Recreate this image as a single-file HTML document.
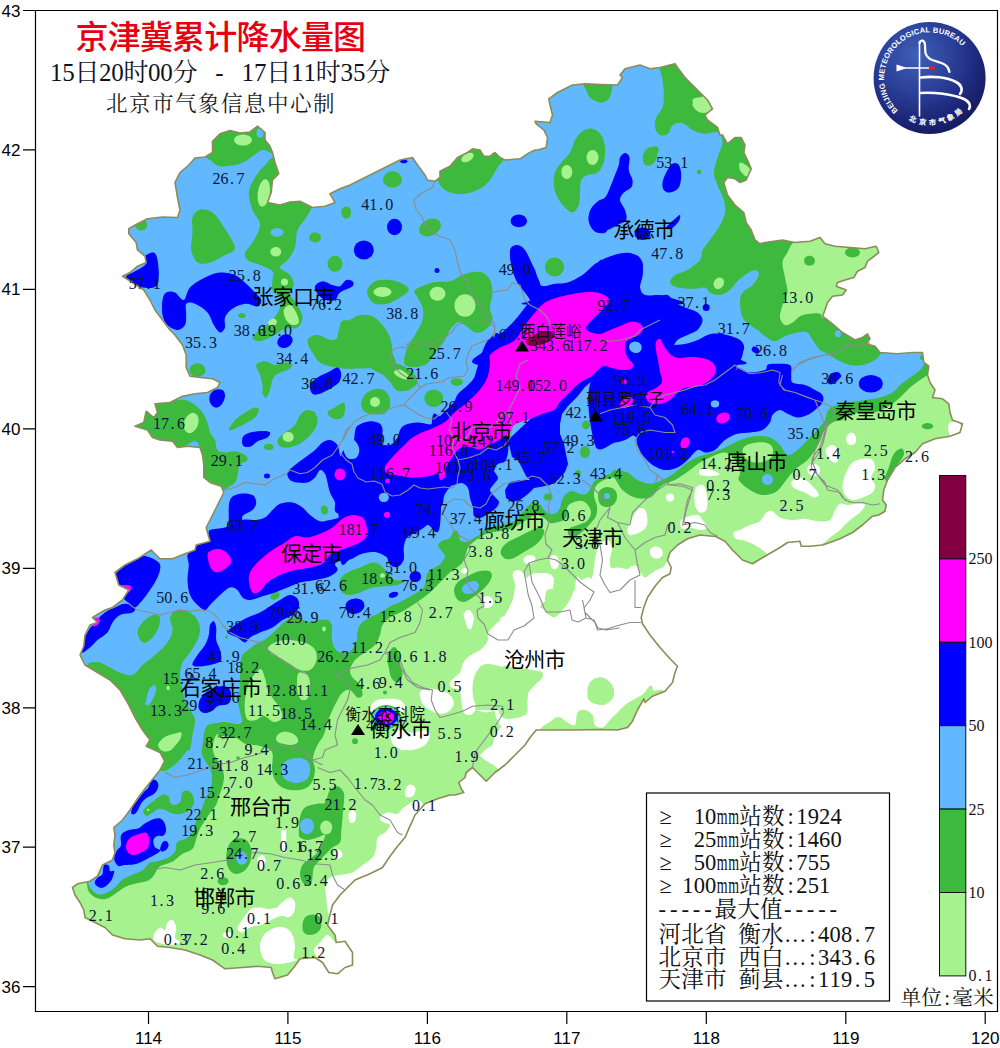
<!DOCTYPE html>
<html lang="zh"><head><meta charset="utf-8"><title>京津冀累计降水量图</title>
<style>html,body{margin:0;padding:0;background:#fff}body{width:1000px;height:1048px;overflow:hidden;font-family:"Liberation Sans",sans-serif}svg{display:block}text{font-family:"Liberation Sans",sans-serif}.s{font-family:"Liberation Serif",serif}.c{font-family:"Liberation Serif","Noto Serif CJK SC",serif}.g{font-family:"Liberation Sans","Noto Sans CJK SC",sans-serif}</style></head><body>
<svg width="1000" height="1048" viewBox="0 0 1000 1048">
<desc>京津冀累计降水量图 15日20时00分 - 17日11时35分 北京市气象信息中心制 单位:毫米</desc>
<rect width="1000" height="1048" fill="#fff"/>
<defs><clipPath id="pc"><path d="M122.5 276.2L130 272.5L137.5 266.2L146.2 262.5L145 256.2L137.5 250L136.2 242.5L128.8 233.8L128.8 228.8L137.5 223.8L147.5 218.8L162.5 217L177.5 217.5L180 210L177.5 197.5L175 182.5L180 172.5L188.8 165L195 158L205 157L212.5 152.5L212.5 141.2L220 133.8L230 130.5L240 133L250 132L257.5 126.2L265 132.5L265 140L270 146.2L272.5 152.5L275 162.5L278.8 173.8L272.5 180L271.2 192.5L267.5 202.5L280 205L290 202L300 201.2L312.5 207.5L325 206.2L335 202.5L330 193.8L340 188.8L350 185L365 177.5L380 170L392.5 163.8L400 160L412.5 157.5L417.5 165L425 175L427.5 180L435 181.2L440 177.5L440 171.2L450 166.2L457.5 157.5L467.5 152.5L472.5 148.8L480 150L483.8 156.2L490 156.2L495 152.5L500 157.5L505 160L520 158.8L527.5 153.8L535 150L537.5 150L546.2 147.5L547.5 137.5L543.8 130L536.2 123.8L535 121.2L550 122.5L552.5 115L550 105L548.8 98.8L557.5 92.5L572.5 85L585 83.8L600 84.5L617.5 85L622.5 77.5L620 75L625 68.8L640 65L650 68.8L660 67.5L675 63.8L677.5 67.5L685 77.5L697.5 90L707.5 100L712.5 108.8L705 115L707.5 120L717.5 127.5L720 135L722.5 135L727.5 143.8L735 137.5L741.2 137.5L745 145L743.8 152.5L747.5 160L751.2 168.8L746.2 180L740 182.5L735 178.8L727.5 177.5L723.8 182.5L727.5 195L735 205L743.8 212.5L746.2 222.5L751.2 230L755 240L760 243.8L765 242.5L782.5 240L795 242.5L810 241.2L820 237.5L825 243.8L835 246.2L850 247.5L865 248.8L876.2 246.2L878.8 252.5L872.5 257.5L867.5 261.2L865 267.5L857.5 271.2L853.8 277.5L845 280L837.5 282.5L836.2 286.2L846.2 290L842.5 295L832.5 296.2L827.5 302.5L825 310L822.5 316.2L832.5 323.8L842.5 332.5L855 340L862.5 337.5L867.5 333.8L870 338.8L866.2 343.8L875 346.2L880 352.5L897.5 353.8L912.5 352.5L922.5 352.5L923.8 362.5L928.8 366.2L927.5 375L930 382.5L935 390L932.5 397.5L942.5 398.8L948.8 403.8L950 412.5L952.5 420L962.5 423.8L960 432.5L950 436.2L950 436.2L935 438.8L922.5 443.8L915 452.5L905 458.8L895 467.5L887.5 480L883.8 490L882.5 500L886.2 505L885 511.2L878.8 515L872.5 516.2L862.5 525L852.5 532.5L840 538.8L830 542.5L822.5 545L810 546.2L801.2 546.2L800 541.2L787.5 542.5L780 547.5L765 556.2L752.5 563.8L742.5 560L732.5 550L725 541.2L715 536.2L712.5 536.2L700 535L687.5 538.8L677.5 545L670 552.5L667.5 560L671.2 567.5L670 573.8L662.5 577.5L655 586.2L647.5 597.5L643.8 607.5L641.2 617.5L642.5 623.8L650 635L660 647.5L670 658.8L677.5 666.2L675 672.5L672.5 682.5L665 691.2L652.5 696.2L645 702.5L643.8 698.8L637.5 710L632.5 721.2L627.5 727.5L617.5 730L600 729.5L575 730L550 730L536.2 730L530 737.5L525 745L515 755L505 765L495 772.5L486.2 781.2L480 775L472.5 767.5L466.2 772.5L465 777.5L458.8 782.5L461.2 788.8L463.8 792.5L455 795L450 795L437.5 798.8L425 803.8L415 815L410 826.2L405 837.5L397.5 846.2L390 856.2L382.5 867.5L370 873.8L355 880L347.5 887.5L340 895L332.5 905L330 915L327.5 925L335 935L336.2 942.5L345 941.2L352.5 952.5L352.5 965L345 967.5L337.5 973.8L328.8 972.5L322.5 962.5L315 957.5L300 958.8L293.8 967.5L287.5 975L275 978.8L272.5 972.5L271.2 967.5L257.5 966.2L242.5 967.5L225 968.8L212.5 960L200 955L185 950L170 947.5L157.5 946.2L150 938.8L140 940L125 938.8L112.5 935L105 927.5L95 922.5L85 917.5L83.8 910L80 902.5L75 895L72.5 887.5L77.5 883.8L90 881.2L97.5 876.2L102.5 865L112.5 860L115 852.5L113.8 845L115 835L113.8 827.5L122.5 820L130 810L140 795L150 782.5L160 770L165 760L165 762L160 752.5L146.2 746.2L150 740L142.5 730L135 717.5L127.5 702.5L120 690L110 680L97.5 672.5L85 665L80 655L83.8 646.2L85 635L90 625L97.5 622.5L92.5 617.5L105 610L112.5 607.5L122.5 600L128.8 590L118.8 585L115 572.5L125 565L137.5 558.8L151.2 550L160 558.8L172.5 558.8L185 553.8L195 550L196.2 545L210 541.2L207.5 532.5L206.2 527.5L210 520L215 510L220 500L223.8 492.5L221.2 486.2L210 482.5L203.8 477.5L203.8 465L202.5 455L200 447.5L187.5 446.2L177.5 447.5L172.5 441.2L160 440L152.5 437.5L147.5 430L135 426.2L143.8 422.5L146.2 411.2L153.8 417.5L157.5 412.5L155 403.8L170 402.5L182.5 396.2L195 393.8L207.5 392.5L217.5 387.5L220 382.5L212.5 378.8L200 377.5L190 376.2L186.2 367.5L186.2 355L182.5 345L175 335L170 330L162.5 320L155 310L150 300L143.8 290L132.5 282.5Z"/></clipPath><radialGradient id="lg" cx="0.38" cy="0.30" r="0.75"><stop offset="0" stop-color="#3f5fb8"/><stop offset="0.45" stop-color="#2a3f98"/><stop offset="0.8" stop-color="#1b2474"/><stop offset="1" stop-color="#141a5c"/></radialGradient><path id="arc1" d="M898 110.6A45.5 45.5 0 1 1 969.8 56.5"/></defs>
<g clip-path="url(#pc)">
<path d="M122.5 276.2L130 272.5L137.5 266.2L146.2 262.5L145 256.2L137.5 250L136.2 242.5L128.8 233.8L128.8 228.8L137.5 223.8L147.5 218.8L162.5 217L177.5 217.5L180 210L177.5 197.5L175 182.5L180 172.5L188.8 165L195 158L205 157L212.5 152.5L212.5 141.2L220 133.8L230 130.5L240 133L250 132L257.5 126.2L265 132.5L265 140L270 146.2L272.5 152.5L275 162.5L278.8 173.8L272.5 180L271.2 192.5L267.5 202.5L280 205L290 202L300 201.2L312.5 207.5L325 206.2L335 202.5L330 193.8L340 188.8L350 185L365 177.5L380 170L392.5 163.8L400 160L412.5 157.5L417.5 165L425 175L427.5 180L435 181.2L440 177.5L440 171.2L450 166.2L457.5 157.5L467.5 152.5L472.5 148.8L480 150L483.8 156.2L490 156.2L495 152.5L500 157.5L505 160L520 158.8L527.5 153.8L535 150L537.5 150L546.2 147.5L547.5 137.5L543.8 130L536.2 123.8L535 121.2L550 122.5L552.5 115L550 105L548.8 98.8L557.5 92.5L572.5 85L585 83.8L600 84.5L617.5 85L622.5 77.5L620 75L625 68.8L640 65L650 68.8L660 67.5L675 63.8L677.5 67.5L685 77.5L697.5 90L707.5 100L712.5 108.8L705 115L707.5 120L717.5 127.5L720 135L722.5 135L727.5 143.8L735 137.5L741.2 137.5L745 145L743.8 152.5L747.5 160L751.2 168.8L746.2 180L740 182.5L735 178.8L727.5 177.5L723.8 182.5L727.5 195L735 205L743.8 212.5L746.2 222.5L751.2 230L755 240L760 243.8L765 242.5L782.5 240L795 242.5L810 241.2L820 237.5L825 243.8L835 246.2L850 247.5L865 248.8L876.2 246.2L878.8 252.5L872.5 257.5L867.5 261.2L865 267.5L857.5 271.2L853.8 277.5L845 280L837.5 282.5L836.2 286.2L846.2 290L842.5 295L832.5 296.2L827.5 302.5L825 310L822.5 316.2L832.5 323.8L842.5 332.5L855 340L862.5 337.5L867.5 333.8L870 338.8L866.2 343.8L875 346.2L880 352.5L897.5 353.8L912.5 352.5L922.5 352.5L923.8 362.5L928.8 366.2L927.5 375L930 382.5L935 390L932.5 397.5L942.5 398.8L948.8 403.8L950 412.5L952.5 420L962.5 423.8L960 432.5L950 436.2L950 436.2L935 438.8L922.5 443.8L915 452.5L905 458.8L895 467.5L887.5 480L883.8 490L882.5 500L886.2 505L885 511.2L878.8 515L872.5 516.2L862.5 525L852.5 532.5L840 538.8L830 542.5L822.5 545L810 546.2L801.2 546.2L800 541.2L787.5 542.5L780 547.5L765 556.2L752.5 563.8L742.5 560L732.5 550L725 541.2L715 536.2L712.5 536.2L700 535L687.5 538.8L677.5 545L670 552.5L667.5 560L671.2 567.5L670 573.8L662.5 577.5L655 586.2L647.5 597.5L643.8 607.5L641.2 617.5L642.5 623.8L650 635L660 647.5L670 658.8L677.5 666.2L675 672.5L672.5 682.5L665 691.2L652.5 696.2L645 702.5L643.8 698.8L637.5 710L632.5 721.2L627.5 727.5L617.5 730L600 729.5L575 730L550 730L536.2 730L530 737.5L525 745L515 755L505 765L495 772.5L486.2 781.2L480 775L472.5 767.5L466.2 772.5L465 777.5L458.8 782.5L461.2 788.8L463.8 792.5L455 795L450 795L437.5 798.8L425 803.8L415 815L410 826.2L405 837.5L397.5 846.2L390 856.2L382.5 867.5L370 873.8L355 880L347.5 887.5L340 895L332.5 905L330 915L327.5 925L335 935L336.2 942.5L345 941.2L352.5 952.5L352.5 965L345 967.5L337.5 973.8L328.8 972.5L322.5 962.5L315 957.5L300 958.8L293.8 967.5L287.5 975L275 978.8L272.5 972.5L271.2 967.5L257.5 966.2L242.5 967.5L225 968.8L212.5 960L200 955L185 950L170 947.5L157.5 946.2L150 938.8L140 940L125 938.8L112.5 935L105 927.5L95 922.5L85 917.5L83.8 910L80 902.5L75 895L72.5 887.5L77.5 883.8L90 881.2L97.5 876.2L102.5 865L112.5 860L115 852.5L113.8 845L115 835L113.8 827.5L122.5 820L130 810L140 795L150 782.5L160 770L165 760L165 762L160 752.5L146.2 746.2L150 740L142.5 730L135 717.5L127.5 702.5L120 690L110 680L97.5 672.5L85 665L80 655L83.8 646.2L85 635L90 625L97.5 622.5L92.5 617.5L105 610L112.5 607.5L122.5 600L128.8 590L118.8 585L115 572.5L125 565L137.5 558.8L151.2 550L160 558.8L172.5 558.8L185 553.8L195 550L196.2 545L210 541.2L207.5 532.5L206.2 527.5L210 520L215 510L220 500L223.8 492.5L221.2 486.2L210 482.5L203.8 477.5L203.8 465L202.5 455L200 447.5L187.5 446.2L177.5 447.5L172.5 441.2L160 440L152.5 437.5L147.5 430L135 426.2L143.8 422.5L146.2 411.2L153.8 417.5L157.5 412.5L155 403.8L170 402.5L182.5 396.2L195 393.8L207.5 392.5L217.5 387.5L220 382.5L212.5 378.8L200 377.5L190 376.2L186.2 367.5L186.2 355L182.5 345L175 335L170 330L162.5 320L155 310L150 300L143.8 290L132.5 282.5Z" fill="#a6f28f"/>
<path d="M80.2 879.6C102.9 876.6 84.7 880.2 86.2 882.1C87.6 884.1 87.1 889 88.7 891.5C90.3 894 92.7 896.2 95.5 897.5C98.3 898.7 102.3 899.9 105.7 899.1C109.1 898.4 112.5 895.3 115.9 893.2C119.3 891.1 122.4 888.1 126.1 886.4C129.8 884.7 134.6 883.9 138 883C141.4 882.1 143.9 882.4 146.5 881.3C149.1 880.2 151.3 878.5 153.3 876.2C155.3 873.9 156.4 869.7 158.4 867.7C160.4 865.7 162.6 865.4 165.2 864.3C167.8 863.2 170.9 862.6 173.7 860.9C176.5 859.2 179.1 856.1 182.2 854.1C185.3 852.1 190.1 851.3 192.4 849C194.7 846.7 194.7 843.6 195.8 840.5C196.9 837.4 197.8 833.4 199.2 830.3C200.6 827.2 202.3 824.9 204.3 821.8C206.3 818.7 209.1 814.4 211.1 811.6C213.1 808.8 214.8 807.6 216.2 804.8C217.6 802 218.5 798 219.6 794.6C220.7 791.2 222.3 787.8 223 784.4C223.7 781 224.4 777.6 223.8 774.2C223.3 770.8 221.2 767.1 219.6 764C218 760.9 215.6 758.3 214.5 755.5C213.4 752.7 212.8 749.8 212.8 747C212.8 744.2 213.7 740.8 214.5 738.5C215.3 736.2 217.3 733.5 217.9 733.4C218.5 733.3 217 737.6 218 738C219 738.4 221 736 224 736C227 736 232.3 736.7 236 738C239.7 739.3 242 742.7 246 744C250 745.3 255.7 744.7 260 746C264.3 747.3 270 748.3 272 752C274 755.7 271.7 763.7 272 768C272.3 772.3 272.7 775 274 778C275.3 781 277.3 784 280 786C282.7 788 286 789.5 290 790C294 790.5 300.3 790.3 304 789C307.7 787.7 310.2 785.2 312 782C313.8 778.8 314.8 774 315 770C315.2 766 312.6 762.2 313 758C313.4 753.8 315.7 748.8 317.5 745C319.3 741.2 322.1 738.8 323.8 735C325.4 731.2 326 726.7 327.5 722.5C329 718.3 330.8 713.8 332.5 710C334.2 706.2 335.8 702.9 337.5 700C339.2 697.1 340.4 694.2 342.5 692.5C344.6 690.8 347.5 689.2 350 690C352.5 690.8 355.4 696.7 357.5 697.5C359.6 698.3 362.1 697.1 362.5 695C362.9 692.9 361.7 687.9 360 685C358.3 682.1 354.2 680 352.5 677.5C350.8 675 349.6 672.9 350 670C350.4 667.1 352.5 662.9 355 660C357.5 657.1 361.7 655 365 652.5C368.3 650 372.5 647.9 375 645C377.5 642.1 378.8 638.3 380 635C381.2 631.7 380.8 627.9 382.5 625C384.2 622.1 386.2 620 390 617.5C393.8 615 400 612.9 405 610C410 607.1 415.8 602.9 420 600C424.2 597.1 426.7 595.4 430 592.5C433.3 589.6 436.7 585.8 440 582.5C443.3 579.2 446.2 575.8 450 572.5C453.8 569.2 459.5 566.6 462.5 562.5C465.5 558.4 465.8 551.8 468 548C470.2 544.2 473 542.3 476 540C479 537.7 482 535.5 486 534C490 532.5 496 531.8 500 531C504 530.2 506.7 530.2 510 529C513.3 527.8 517 525.7 520 524C523 522.3 525.3 520.5 528 519C530.7 517.5 533.3 515.2 536 515C538.7 514.8 541.7 516.7 544 518C546.3 519.3 547.7 522.3 550 523C552.3 523.7 555.3 522.8 558 522C560.7 521.2 564.3 520.7 566 518C567.7 515.3 566 508.8 568 506C570 503.2 575 501.5 578 501C581 500.5 583.8 501.2 586 503C588.2 504.8 590.8 509 591 512C591.2 515 589.2 518.8 587 521C584.8 523.2 580.8 523.8 578 525C575.2 526.2 571.7 526.5 570 528C568.3 529.5 567.3 532.5 568 534C568.7 535.5 571.7 537.3 574 537C576.3 536.7 579.3 534.2 582 532C584.7 529.8 587.7 526.7 590 524C592.3 521.3 594.8 519 596 516C597.2 513 597.3 509.3 597 506C596.7 502.7 594.2 499.3 594 496C593.8 492.7 594.3 488.7 596 486C597.7 483.3 601.3 481.3 604 480C606.7 478.7 610.2 478.2 612 478C613.8 477.8 613.2 476.8 615 478.8C616.8 480.8 619.2 486.9 622.5 490C625.8 493.1 630.4 496.2 635 497.5C639.6 498.8 646.2 498.8 650 497.5C653.8 496.2 655.4 492.1 657.5 490C659.6 487.9 659.6 486.7 662.5 485C665.4 483.3 670.4 482.5 675 480C679.6 477.5 685.8 472.9 690 470C694.2 467.1 696.2 464.8 700 462.5C703.8 460.2 708.3 457.9 712.5 456.2C716.7 454.6 721.2 451.9 725 452.5C728.8 453.1 732.5 456.7 735 460C737.5 463.3 739.4 469.2 740 472.5C740.6 475.8 737.1 477.1 738.8 480C740.4 482.9 746 487.5 750 490C754 492.5 758.3 494.6 762.5 495C766.7 495.4 771.7 494.2 775 492.5C778.3 490.8 780 487.9 782.5 485C785 482.1 787.5 477.9 790 475C792.5 472.1 794.6 470 797.5 467.5C800.4 465 804.6 462.9 807.5 460C810.4 457.1 812.9 453.3 815 450C817.1 446.7 818.3 443.3 820 440C821.7 436.7 822.9 432.9 825 430C827.1 427.1 829.6 424.2 832.5 422.5C835.4 420.8 840.2 421.2 842.5 420C844.8 418.8 843.3 416.8 846.2 415.5C849.2 414.2 855.2 413 860 412.5C864.8 412 870 413.8 875 412.5C880 411.2 885.8 407.5 890 405C894.2 402.5 896.7 400.4 900 397.5C903.3 394.6 906.7 390.4 910 387.5C913.3 384.6 917.1 382.1 920 380C922.9 377.9 924.2 377.5 927.5 375C930.8 372.5 919.6 377.5 940 365C960.4 352.5 1031.7 369.2 1050 300C1068.3 230.8 1233.3 8.3 1050 -50C866.7 -108.3 133.3 -208.3 -50 -50C-233.3 108.3 -71.7 745.1 -50 900C-28.3 1054.9 57.5 882.6 80.2 879.6Z" fill="#3dba3d"/>
<ellipse cx="851.2" cy="438.8" rx="4.5" ry="6.2" fill="#ffffff"/>
<path d="M948.8 423.8C950 421.7 955.4 421.9 957.5 422.5C959.6 423.1 961.2 425.6 961.2 427.5C961.2 429.4 959.4 432.5 957.5 433.8C955.6 435 951.5 436.7 950 435C948.5 433.3 947.5 425.8 948.8 423.8Z" fill="#ffffff"/>
<ellipse cx="927.5" cy="426.2" rx="5.5" ry="3" fill="#3dba3d"/>
<path d="M897.5 450C899.2 448.8 901.5 447.9 902.5 448.8C903.5 449.6 904.6 452.3 903.8 455C902.9 457.7 899.6 461.7 897.5 465C895.4 468.3 892.9 472.1 891.2 475C889.6 477.9 888.5 482.1 887.5 482.5C886.5 482.9 884.8 480 885 477.5C885.2 475 887.5 471 888.8 467.5C890 464 891 459.2 892.5 456.2C894 453.3 895.8 451.2 897.5 450Z" fill="#3dba3d"/>
<path d="M846.2 437.5C846.7 435.8 848.5 434.2 850 433.8C851.5 433.3 854 433.8 855 435C856 436.2 856.7 439.6 856.2 441.2C855.8 442.9 854 444.6 852.5 445C851 445.4 848.5 445 847.5 443.8C846.5 442.5 845.8 439.2 846.2 437.5Z" fill="#ffffff"/>
<path d="M826.2 448.8C827.1 447.3 829.6 445.2 831.2 445C832.9 444.8 835 445.6 836.2 447.5C837.5 449.4 838.8 453.8 838.8 456.2C838.8 458.8 837.7 461.9 836.2 462.5C834.8 463.1 831.7 461.5 830 460C828.3 458.5 826.9 455.6 826.2 453.8C825.6 451.9 825.4 450.2 826.2 448.8Z" fill="#ffffff"/>
<path d="M807.5 467.5C808.1 465.8 810.6 464 812.5 463.8C814.4 463.5 817.5 464.8 818.8 466.2C820 467.7 820.6 470.8 820 472.5C819.4 474.2 816.9 476 815 476.2C813.1 476.5 810 475.2 808.8 473.8C807.5 472.3 806.9 469.2 807.5 467.5Z" fill="#ffffff"/>
<path d="M791.2 482.5C791.9 480.6 796 477.7 798.8 477.5C801.5 477.3 804.8 479.4 807.5 481.2C810.2 483.1 813.1 486.5 815 488.8C816.9 491 819 493.5 818.8 495C818.5 496.5 816 497.9 813.8 497.5C811.5 497.1 808.1 494 805 492.5C801.9 491 797.3 490.4 795 488.8C792.7 487.1 790.6 484.4 791.2 482.5Z" fill="#ffffff"/>
<path d="M846.2 472.5C847.9 468.8 849.8 464.8 852.5 462.5C855.2 460.2 859.2 459.2 862.5 458.8C865.8 458.3 870.4 458.3 872.5 460C874.6 461.7 875.2 465.8 875 468.8C874.8 471.7 871.2 474.8 871.2 477.5C871.2 480.2 874.8 482.5 875 485C875.2 487.5 874.6 490.4 872.5 492.5C870.4 494.6 865.8 496.2 862.5 497.5C859.2 498.8 855.4 500.4 852.5 500C849.6 499.6 846.7 497.5 845 495C843.3 492.5 842.3 488.8 842.5 485C842.7 481.2 844.6 476.2 846.2 472.5Z" fill="#ffffff"/>
<path d="M733.8 536.2C733.3 534.6 737.3 531.9 740 530C742.7 528.1 746.7 526.5 750 525C753.3 523.5 757.3 523.3 760 521.2C762.7 519.2 764.2 514.2 766.2 512.5C768.3 510.8 770.2 510.4 772.5 511.2C774.8 512.1 776.7 516 780 517.5C783.3 519 788.3 519.8 792.5 520C796.7 520.2 800.8 518.5 805 518.8C809.2 519 813.3 521 817.5 521.2C821.7 521.5 827.1 521.9 830 520C832.9 518.1 833.3 512.7 835 510C836.7 507.3 837.9 504.6 840 503.8C842.1 502.9 844.6 505 847.5 505C850.4 505 854.6 503.8 857.5 503.8C860.4 503.8 864.6 503.5 865 505C865.4 506.5 862.5 510 860 512.5C857.5 515 853.3 517.1 850 520C846.7 522.9 843.3 527.1 840 530C836.7 532.9 832.9 535.2 830 537.5C827.1 539.8 825.8 542.1 822.5 543.8C819.2 545.4 813.8 546.9 810 547.5C806.2 548.1 803.8 547.9 800 547.5C796.2 547.1 790.8 544.8 787.5 545C784.2 545.2 782.9 547.1 780 548.8C777.1 550.4 772.9 554.8 770 555C767.1 555.2 765.4 551.9 762.5 550C759.6 548.1 755.8 545.4 752.5 543.8C749.2 542.1 745.6 541.2 742.5 540C739.4 538.8 734.2 537.9 733.8 536.2Z" fill="#ffffff"/>
<path d="M700 470C701.2 469 704.6 468.3 707.5 468.8C710.4 469.2 715.6 471.5 717.5 472.5C719.4 473.5 720 474.4 718.8 475C717.5 475.6 713.1 476.2 710 476.2C706.9 476.2 701.7 476 700 475C698.3 474 698.8 471 700 470Z" fill="#ffffff"/>
<ellipse cx="702" cy="502.5" rx="3.5" ry="7.5" fill="#ffffff"/>
<ellipse cx="927.5" cy="426.2" rx="5.5" ry="3" fill="#3dba3d"/>
<path d="M502 548C503.2 546 505.3 543.8 508 542C510.7 540.2 514.7 538.7 518 537C521.3 535.3 524.7 533.5 528 532C531.3 530.5 535.3 528.3 538 528C540.7 527.7 543.3 528.3 544 530C544.7 531.7 543.7 535.3 542 538C540.3 540.7 537 543.7 534 546C531 548.3 527.3 550 524 552C520.7 554 517 556.8 514 558C511 559.2 508.2 559.7 506 559C503.8 558.3 501.7 555.8 501 554C500.3 552.2 500.8 550 502 548Z" fill="#3dba3d"/>
<path d="M454 590C454.2 587.2 455.7 584.3 458 582C460.3 579.7 464.3 577.8 468 576C471.7 574.2 476.5 571.8 480 571C483.5 570.2 487 570.2 489 571C491 571.8 492.2 573.8 492 576C491.8 578.2 490 581.3 488 584C486 586.7 482.7 589.7 480 592C477.3 594.3 474.7 596.3 472 598C469.3 599.7 466.5 601.8 464 602C461.5 602.2 458.7 601 457 599C455.3 597 453.8 592.8 454 590Z" fill="#3dba3d"/>
<path d="M598 496C598 493.7 598.5 491.5 600 490C601.5 488.5 604.5 487 607 487C609.5 487 613.3 488.2 615 490C616.7 491.8 617.3 495.5 617 498C616.7 500.5 614.8 503.5 613 505C611.2 506.5 608.2 507.2 606 507C603.8 506.8 601.3 505.8 600 504C598.7 502.2 598 498.3 598 496Z" fill="#3dba3d"/>
<path d="M513 573C513 571.7 516.3 569.7 518 570C519.7 570.3 521.7 573.7 523 575C524.3 576.3 524.5 578.2 526 578C527.5 577.8 529.7 574.8 532 574C534.3 573.2 537 573 540 573C543 573 547.7 572.8 550 574C552.3 575.2 553.5 577.3 554 580C554.5 582.7 552.3 587 553 590C553.7 593 558.5 596.3 558 598C557.5 599.7 552.3 599.3 550 600C547.7 600.7 545.7 600.7 544 602C542.3 603.3 540 605.7 540 608C540 610.3 542 614.2 544 616C546 617.8 549.3 619.3 552 619C554.7 618.7 557.3 615.8 560 614C562.7 612.2 566.3 610.3 568 608C569.7 605.7 568.3 602.3 570 600C571.7 597.7 575.3 596.3 578 594C580.7 591.7 583.7 588.7 586 586C588.3 583.3 590.7 581.3 592 578C593.3 574.7 593.3 570 594 566C594.7 562 595 557.7 596 554C597 550.3 598 546.3 600 544C602 541.7 606 539.3 608 540C610 540.7 611.7 544.7 612 548C612.3 551.3 610 556.3 610 560C610 563.7 610.3 567.7 612 570C613.7 572.3 615.3 573.3 620 574C624.7 574.7 636.7 554.7 640 574C643.3 593.3 669.5 670.7 640 690C610.5 709.3 492.7 693.3 463 690C433.3 686.7 461.8 674.7 462 670C462.2 665.3 462.7 664.3 464 662C465.3 659.7 467.3 658 470 656C472.7 654 477.3 652 480 650C482.7 648 484.3 646 486 644C487.7 642 487.7 638.5 490 638C492.3 637.5 497 640.7 500 641C503 641.3 505.3 641.8 508 640C510.7 638.2 513 632.7 516 630C519 627.3 523.3 626 526 624C528.7 622 531.7 620.3 532 618C532.3 615.7 529.3 613.3 528 610C526.7 606.7 524.7 602.7 524 598C523.3 593.3 525 585.3 524 582C523 578.7 519.8 579.5 518 578C516.2 576.5 513 574.3 513 573Z" fill="#ffffff"/>
<path d="M524 558C524.8 556.8 527.2 555.2 529 555C530.8 554.8 534.2 555.8 535 557C535.8 558.2 535.2 560.8 534 562C532.8 563.2 529.7 564 528 564C526.3 564 524.7 563 524 562C523.3 561 523.2 559.2 524 558Z" fill="#ffffff"/>
<path d="M550 558C550.5 556.3 552.7 555 554 555C555.3 555 557.3 556.2 558 558C558.7 559.8 558.7 564.2 558 566C557.3 567.8 555.2 569.2 554 569C552.8 568.8 551.7 566.8 551 565C550.3 563.2 549.5 559.7 550 558Z" fill="#ffffff"/>
<path d="M465 612C465.4 610 467.8 609.7 469 610C470.2 610.3 471.7 611.7 472 614C472.3 616.3 471.5 621.5 471 624C470.5 626.5 469.8 629.3 469 629C468.2 628.7 467.1 624.8 466.4 622C465.7 619.2 464.6 614 465 612Z" fill="#ffffff"/>
<path d="M482 598C483 596.7 486.2 595.7 488 596C489.8 596.3 492.3 598.3 493 600C493.7 601.7 493.2 604.7 492 606C490.8 607.3 487.7 608.3 486 608C484.3 607.7 482.7 605.7 482 604C481.3 602.3 481 599.3 482 598Z" fill="#ffffff"/>
<path d="M461 570C461.5 569.2 463.8 568 465 568C466.2 568 467.8 569.2 468 570C468.2 570.8 467 572.5 466 573C465 573.5 462.8 573.5 462 573C461.2 572.5 460.5 570.8 461 570Z" fill="#ffffff"/>
<path d="M627.5 530C627.9 527.1 630.6 521 632.5 517.5C634.4 514 636.7 510 638.8 508.8C640.8 507.5 643.5 508.1 645 510C646.5 511.9 647.5 516.9 647.5 520C647.5 523.1 646.9 526.5 645 528.8C643.1 531 638.8 532.7 636.2 533.8C633.8 534.8 631.5 535.6 630 535C628.5 534.4 627.1 532.9 627.5 530Z" fill="#ffffff"/>
<ellipse cx="670" cy="497.5" rx="4" ry="4" fill="#ffffff"/>
<path d="M650 550C650.6 548.3 653.1 546.5 655 546.2C656.9 546 660 547.3 661.2 548.8C662.5 550.2 663.1 553.3 662.5 555C661.9 556.7 659.4 558.5 657.5 558.8C655.6 559 652.5 557.7 651.2 556.2C650 554.8 649.4 551.7 650 550Z" fill="#ffffff"/>
<path d="M550 560C550.2 558.1 552.3 557.3 553.8 557.5C555.2 557.7 558.1 559.6 558.8 561.2C559.4 562.9 558.5 566.2 557.5 567.5C556.5 568.8 553.8 570 552.5 568.8C551.2 567.5 549.8 561.9 550 560Z" fill="#ffffff"/>
<path d="M695 490C695.8 486.7 698.3 485.4 700 485C701.7 484.6 703.8 485 705 487.5C706.2 490 707.3 496.2 707.5 500C707.7 503.8 707.5 507.9 706.2 510C705 512.1 701.9 513.3 700 512.5C698.1 511.7 695.8 508.8 695 505C694.2 501.2 694.2 493.3 695 490Z" fill="#ffffff"/>
<path d="M733.8 532.5C734.6 531.2 737.3 530.4 740 530C742.7 529.6 748.3 528.5 750 530C751.7 531.5 751.7 537.1 750 538.8C748.3 540.4 742.5 540.2 740 540C737.5 539.8 736 538.8 735 537.5C734 536.2 732.9 533.8 733.8 532.5Z" fill="#ffffff"/>
<path d="M680 522.5C680.4 520.6 682.1 518.8 685 517.5C687.9 516.2 694.6 514.6 697.5 515C700.4 515.4 700.8 517.9 702.5 520C704.2 522.1 707.9 525.8 707.5 527.5C707.1 529.2 702.9 530 700 530C697.1 530 692.9 527.7 690 527.5C687.1 527.3 684.2 529.6 682.5 528.8C680.8 527.9 679.6 524.4 680 522.5Z" fill="#ffffff"/>
<path d="M582.5 580C585 577.9 587.9 576.7 590 577.5C592.1 578.3 593.3 585.4 595 585C596.7 584.6 597.9 577.5 600 575C602.1 572.5 604.6 571.2 607.5 570C610.4 568.8 613.8 567.5 617.5 567.5C621.2 567.5 626.2 569.2 630 570C633.8 570.8 637.5 571.2 640 572.5C642.5 573.8 642.9 577.5 645 577.5C647.1 577.5 649.6 574.2 652.5 572.5C655.4 570.8 658.8 568.3 662.5 567.5C666.2 566.7 672.9 541.2 675 567.5C677.1 593.8 691.7 698.8 675 725C658.3 751.2 591.7 747.5 575 725C558.3 702.5 573.8 614.2 575 590C576.2 565.8 580 582.1 582.5 580Z" fill="#ffffff"/>
<path d="M500 625C500.8 606.7 502.9 619.2 505 615C507.1 610.8 510.8 605 512.5 600C514.2 595 515 589.2 515 585C515 580.8 512.1 577.5 512.5 575C512.9 572.5 515.4 570 517.5 570C519.6 570 523.5 571.7 525 575C526.5 578.3 525 585.4 526.2 590C527.5 594.6 529.4 599.2 532.5 602.5C535.6 605.8 541.5 607.5 545 610C548.5 612.5 550.8 617.5 553.8 617.5C556.7 617.5 559.8 612.9 562.5 610C565.2 607.1 567.9 603.3 570 600C572.1 596.7 572.9 590 575 590C577.1 590 581.2 577.5 582.5 600C583.8 622.5 596.2 704.2 582.5 725C568.8 745.8 513.8 741.7 500 725C486.2 708.3 499.2 643.3 500 625Z" fill="#ffffff"/>
<path d="M462.5 665C463.8 662.1 465 659.6 467.5 657.5C470 655.4 475 652.5 477.5 652.5C480 652.5 482.5 655.4 482.5 657.5C482.5 659.6 479 662.1 477.5 665C476 667.9 474.8 671.2 473.8 675C472.7 678.8 471.5 683.3 471.2 687.5C471 691.7 471.9 696.2 472.5 700C473.1 703.8 475.4 707.5 475 710C474.6 712.5 471.9 714.6 470 715C468.1 715.4 465.2 715 463.8 712.5C462.3 710 461.9 704.2 461.2 700C460.6 695.8 460.2 691.7 460 687.5C459.8 683.3 459.6 678.8 460 675C460.4 671.2 461.2 667.9 462.5 665Z" fill="#ffffff"/>
<path d="M420 692.5C420.8 690 424.2 689.2 427.5 688.8C430.8 688.3 436.2 689 440 690C443.8 691 447.7 692.7 450 695C452.3 697.3 454 701 453.8 703.8C453.5 706.5 451 709.6 448.8 711.2C446.5 712.9 443.1 714 440 713.8C436.9 713.5 432.9 711.7 430 710C427.1 708.3 424.2 706.7 422.5 703.8C420.8 700.8 419.2 695 420 692.5Z" fill="#ffffff"/>
<path d="M475 710L485 712.5L500 710L507.5 715L502.5 725L495 735L492.5 745L485 750L480 755L477.5 762.5L472.5 767.5L486.2 781.2L540 732.5L675 732.5L675 625L540 625L525 665L540 672.5L542.5 677.5L535 685L527.5 692.5L520 697.5L512.5 702.5L505 707.5L495 710L485 710Z" fill="#ffffff"/>
<ellipse cx="410" cy="790.8" rx="4.5" ry="6.2" fill="#ffffff"/>
<path d="M400 735C401.7 732.3 407.1 732.1 410 732.5C412.9 732.9 416.7 735.2 417.5 737.5C418.3 739.8 417.1 744.2 415 746.2C412.9 748.3 407.5 749.6 405 750C402.5 750.4 400.8 751.2 400 748.8C399.2 746.2 398.3 737.7 400 735Z" fill="#ffffff"/>
<path d="M400 812.5C402.1 809.2 404.6 807.1 407.5 805C410.4 802.9 415 800 417.5 800C420 800 422.9 802.5 422.5 805C422.1 807.5 417.1 811.7 415 815C412.9 818.3 411.7 821.7 410 825C408.3 828.3 406.7 832.5 405 835C403.3 837.5 401.7 841.7 400 840C398.3 838.3 395 829.6 395 825C395 820.4 397.9 815.8 400 812.5Z" fill="#ffffff"/>
<path d="M405 795C404.8 793.3 406.2 789.2 407.5 787.5C408.8 785.8 411.2 784.8 412.5 785C413.8 785.2 415.3 787.1 415.5 788.8C415.7 790.4 414.9 793.5 413.8 795C412.6 796.5 410.2 797.5 408.8 797.5C407.3 797.5 405.2 796.7 405 795Z" fill="#ffffff"/>
<path d="M348.8 813.8C349.2 811.7 351.2 810 352.5 810C353.8 810 355.8 811.9 356.2 813.8C356.7 815.6 356 819.8 355 821.2C354 822.7 351 823.8 350 822.5C349 821.2 348.3 815.8 348.8 813.8Z" fill="#ffffff"/>
<path d="M281.2 830L286.2 830L286.2 852.5L281.2 852.5Z" fill="#ffffff"/>
<path d="M257.5 858.8C258.1 856.7 261.2 854.8 262.5 855C263.8 855.2 265.3 857.9 265.5 860C265.7 862.1 264.9 866.2 263.8 867.5C262.6 868.8 259.8 869 258.8 867.5C257.7 866 256.9 860.8 257.5 858.8Z" fill="#ffffff"/>
<path d="M335 851.2C335.8 850.2 338.8 849.4 340 850C341.2 850.6 342.7 853.5 342.5 855C342.3 856.5 340 858.5 338.8 858.8C337.5 859 335.6 857.5 335 856.2C334.4 855 334.2 852.3 335 851.2Z" fill="#ffffff"/>
<path d="M380 817.5C380.6 815.8 384.6 813.1 387.5 812.5C390.4 811.9 394.8 814.6 397.5 813.8C400.2 812.9 401.2 808.8 403.8 807.5C406.2 806.2 409.8 805.8 412.5 806.2C415.2 806.7 419.6 807.7 420 810C420.4 812.3 416.7 817.3 415 820C413.3 822.7 411.7 823.3 410 826.2C408.3 829.2 407.1 834.2 405 837.5C402.9 840.8 400 843.1 397.5 846.2C395 849.4 392.5 852.7 390 856.2C387.5 859.8 385.8 864.6 382.5 867.5C379.2 870.4 374.6 871.7 370 873.8C365.4 875.8 358.8 877.7 355 880C351.2 882.3 350 885 347.5 887.5C345 890 342.5 892.1 340 895C337.5 897.9 334.2 901.7 332.5 905C330.8 908.3 330.8 914.2 330 915C329.2 915.8 328.1 912.9 327.5 910C326.9 907.1 326.7 901.7 326.2 897.5C325.8 893.3 324.4 888.3 325 885C325.6 881.7 327.5 879.2 330 877.5C332.5 875.8 336.2 875.8 340 875C343.8 874.2 348.8 874.2 352.5 872.5C356.2 870.8 359.2 867.5 362.5 865C365.8 862.5 370.2 860.4 372.5 857.5C374.8 854.6 375.4 850.8 376.2 847.5C377.1 844.2 376 840 377.5 837.5C379 835 382.9 834.6 385 832.5C387.1 830.4 390.2 826.7 390 825C389.8 823.3 385.4 823.8 383.8 822.5C382.1 821.2 379.4 819.2 380 817.5Z" fill="#ffffff"/>
<path d="M285 900C287.1 898.3 288.3 897.1 290 897.5C291.7 897.9 294.4 900 295 902.5C295.6 905 295 910 293.8 912.5C292.5 915 289.8 917.5 287.5 917.5C285.2 917.5 281.7 914.2 280 912.5C278.3 910.8 276.7 909.6 277.5 907.5C278.3 905.4 282.9 901.7 285 900Z" fill="#ffffff"/>
<path d="M237.5 927.5C237.9 925 242.5 920.4 245 917.5C247.5 914.6 250 911.7 252.5 910C255 908.3 256.7 907.5 260 907.5C263.3 907.5 268.8 909.8 272.5 910C276.2 910.2 280.2 908.3 282.5 908.8C284.8 909.2 287.5 911 286.2 912.5C285 914 278.1 915.8 275 917.5C271.9 919.2 270 921.2 267.5 922.5C265 923.8 262.9 924.2 260 925C257.1 925.8 252.9 926.2 250 927.5C247.1 928.8 244.6 932.5 242.5 932.5C240.4 932.5 237.1 930 237.5 927.5Z" fill="#ffffff"/>
<path d="M260 945C260.2 941.2 261.7 937.7 263.8 935C265.8 932.3 269.4 930.1 272.5 928.8C275.6 927.4 279.4 926.4 282.5 927C285.6 927.6 289.2 929.5 291.2 932.5C293.3 935.5 294.6 940.8 295 945C295.4 949.2 293.3 955 293.8 957.5C294.2 960 299.4 959 297.5 960C295.6 961 287.1 963.2 282.5 963.8C277.9 964.2 273.3 964 270 963C266.7 962 264.2 960.5 262.5 957.5C260.8 954.5 259.8 948.8 260 945Z" fill="#ffffff"/>
<ellipse cx="227.5" cy="935" rx="5" ry="3" fill="#ffffff"/>
<path d="M320 942.5C322.3 940 324.8 935 327.5 935C330.2 935 333.3 941.5 336.2 942.5C339.2 943.5 341.9 939.6 345 941.2C348.1 942.9 353.3 948.1 355 952.5C356.7 956.9 356.7 964.6 355 967.5C353.3 970.4 347.9 968.5 345 970C342.1 971.5 340.2 975.4 337.5 976.2C334.8 977.1 331.2 977.3 328.8 975C326.2 972.7 324.4 965.4 322.5 962.5C320.6 959.6 319 959.6 317.5 957.5C316 955.4 313.3 952.5 313.8 950C314.2 947.5 317.7 945 320 942.5Z" fill="#ffffff"/>
<path d="M226.2 857.5C226.2 853.5 227.1 848.1 228.8 845C230.4 841.9 233.3 839.6 236.2 838.8C239.2 837.9 243.8 838.1 246.2 840C248.8 841.9 250.6 846.2 251.2 850C251.9 853.8 251.2 859 250 862.5C248.8 866 246.2 869.4 243.8 871.2C241.2 873.1 237.5 874.2 235 873.8C232.5 873.3 230.2 871.5 228.8 868.8C227.3 866 226.2 861.5 226.2 857.5Z" fill="#3dba3d"/>
<ellipse cx="223" cy="881.2" rx="5.5" ry="4" fill="#3dba3d"/>
<path d="M298.8 832.5C298.8 829.2 299 821.7 300 817.5C301 813.3 302.1 809.8 305 807.5C307.9 805.2 314.2 804.6 317.5 803.8C320.8 802.9 322.9 804.8 325 802.5C327.1 800.2 327.9 792.7 330 790C332.1 787.3 335.2 785.8 337.5 786.2C339.8 786.7 342.7 789.6 343.8 792.5C344.8 795.4 344 799.6 343.8 803.8C343.5 807.9 342.9 812.7 342.5 817.5C342.1 822.3 341.7 828.3 341.2 832.5C340.8 836.7 341.5 840 340 842.5C338.5 845 334.8 845.6 332.5 847.5C330.2 849.4 328.3 851.7 326.2 853.8C324.2 855.8 322.1 857.7 320 860C317.9 862.3 315 864.6 313.8 867.5C312.5 870.4 313.1 874.6 312.5 877.5C311.9 880.4 311.5 884 310 885C308.5 886 305.4 885.4 303.8 883.8C302.1 882.1 300.2 878.1 300 875C299.8 871.9 300.8 867.7 302.5 865C304.2 862.3 307.5 860.8 310 858.8C312.5 856.7 315.4 855.2 317.5 852.5C319.6 849.8 321.2 845.4 322.5 842.5C323.8 839.6 325.8 835.8 325 835C324.2 834.2 320.4 836.7 317.5 837.5C314.6 838.3 310.4 840 307.5 840C304.6 840 301.5 838.8 300 837.5C298.5 836.2 298.8 835.8 298.8 832.5Z" fill="#3dba3d"/>
<path d="M302.5 925C302.7 922.5 303.3 919.2 305 917.5C306.7 915.8 310 914.5 312.5 914.5C315 914.5 318.5 915.5 320 917.5C321.5 919.5 321.7 923.8 321.2 926.2C320.8 928.8 319.4 931 317.5 932.5C315.6 934 312.3 935 310 935C307.7 935 305 934.2 303.8 932.5C302.5 930.8 302.3 927.5 302.5 925Z" fill="#3dba3d"/>
<path d="M153.8 935C154.6 932.7 158.1 928.3 160 927.5C161.9 926.7 163.8 930.8 165 930C166.2 929.2 166.2 924.2 167.5 922.5C168.8 920.8 171 919.2 172.5 920C174 920.8 175.8 924.6 176.2 927.5C176.7 930.4 174.4 935 175 937.5C175.6 940 180.4 941.2 180 942.5C179.6 943.8 175.4 944.8 172.5 945C169.6 945.2 165.4 944.4 162.5 943.8C159.6 943.1 156.5 942.7 155 941.2C153.5 939.8 152.9 937.3 153.8 935Z" fill="#ffffff"/>
<path d="M240 925C240.4 922.1 245 915.4 247.5 912.5C250 909.6 252.1 907.9 255 907.5C257.9 907.1 261.2 910 265 910C268.8 910 273.8 907.5 277.5 907.5C281.2 907.5 285.4 908.8 287.5 910C289.6 911.2 291.2 914 290 915C288.8 916 283.3 915.4 280 916.2C276.7 917.1 273.3 919 270 920C266.7 921 263.3 921.7 260 922.5C256.7 923.3 252.5 923.8 250 925C247.5 926.2 246.7 930 245 930C243.3 930 239.6 927.9 240 925Z" fill="#ffffff"/>
<path d="M463.8 613.8C464.6 612.3 468.3 610.6 470 611.2C471.7 611.9 473.5 614.6 473.8 617.5C474 620.4 472.3 627.1 471.2 628.8C470.2 630.4 468.5 629 467.5 627.5C466.5 626 465.6 622.3 465 620C464.4 617.7 462.9 615.2 463.8 613.8Z" fill="#ffffff"/>
<path d="M370 710C369.6 706.9 372.5 703.1 375 701.2C377.5 699.4 380.8 699 385 698.8C389.2 698.5 396.7 698.5 400 700C403.3 701.5 405 705 405 707.5C405 710 402.5 712.9 400 715C397.5 717.1 393.8 719.2 390 720C386.2 720.8 380.8 721.7 377.5 720C374.2 718.3 370.4 713.1 370 710Z" fill="#ffffff"/>
<path d="M391.2 735C392.5 732.7 396.5 730.4 400 730C403.5 729.6 408.3 732.5 412.5 732.5C416.7 732.5 422.1 729.6 425 730C427.9 730.4 430 732.5 430 735C430 737.5 427.9 742.5 425 745C422.1 747.5 416.7 749.4 412.5 750C408.3 750.6 403.3 749.8 400 748.8C396.7 747.7 394 746 392.5 743.8C391 741.5 390 737.3 391.2 735Z" fill="#ffffff"/>
<path d="M502.5 622.5C500.8 617.1 495 625.4 492.5 627.5C490 629.6 487.9 632.5 487.5 635C487.1 637.5 490.4 640 490 642.5C489.6 645 487.5 647.5 485 650C482.5 652.5 478.3 655.4 475 657.5C471.7 659.6 467.1 660 465 662.5C462.9 665 462.5 668.8 462.5 672.5C462.5 676.2 465 681.2 465 685C465 688.8 462.1 691.7 462.5 695C462.9 698.3 466.2 702.1 467.5 705C468.8 707.9 468.8 711.7 470 712.5C471.2 713.3 474.2 712.1 475 710C475.8 707.9 475.4 704.2 475 700C474.6 695.8 472.5 689.6 472.5 685C472.5 680.4 473.3 675.8 475 672.5C476.7 669.2 479.2 666.7 482.5 665C485.8 663.3 491.7 663.3 495 662.5C498.3 661.7 501.2 666.7 502.5 660C503.8 653.3 504.2 627.9 502.5 622.5Z" fill="#ffffff"/>
<path d="M387.5 657.5C388.1 654.2 390.8 648.8 392.5 647.5C394.2 646.2 396.2 647.5 397.5 650C398.8 652.5 399.2 658.3 400 662.5C400.8 666.7 402.9 671.7 402.5 675C402.1 678.3 399.4 682.1 397.5 682.5C395.6 682.9 392.7 680 391.2 677.5C389.8 675 389.4 670.8 388.8 667.5C388.1 664.2 386.9 660.8 387.5 657.5Z" fill="#3dba3d"/>
<ellipse cx="355" cy="741.2" rx="3" ry="3" fill="#3dba3d"/>
<ellipse cx="385" cy="692.5" rx="2" ry="2" fill="#3dba3d"/>
<path d="M80.2 877.9C103 874.8 85.3 879.6 87 881.3C88.7 883 88.7 886 90.4 888.1C92.1 890.2 94.7 893.2 97.2 894C99.8 894.9 102.9 894.2 105.7 893.2C108.5 892.2 111.4 890.4 114.2 888.1C117 885.8 119.6 881.9 122.7 879.6C125.8 877.3 129.8 875.9 132.9 874.5C136 873.1 139.1 872.5 141.4 871.1C143.7 869.7 145.1 867.4 146.5 866C147.9 864.6 147.9 863.5 149.9 862.6C151.9 861.8 155.3 861.8 158.4 860.9C161.5 860 165.8 859.2 168.6 857.5C171.4 855.8 174 853.2 175.4 850.7C176.8 848.2 175.4 844.2 177.1 842.2C178.8 840.2 183.1 840.5 185.6 838.8C188.1 837.1 190.7 834.8 192.4 832C194.1 829.2 194.4 825.2 195.8 821.8C197.2 818.4 199.5 815 200.9 811.6C202.3 808.2 202.9 804.8 204.3 801.4C205.7 798 208.1 794.6 209.4 791.2C210.7 787.8 211.7 784.4 211.9 781C212.2 777.6 212.1 773.9 211.1 770.8C210.1 767.7 207.6 765.1 206 762.3C204.4 759.5 202.3 756.9 201.8 753.8C201.2 750.7 202.2 746.7 202.6 743.6C203 740.5 204.2 736 204.3 735.1C204.4 734.2 202.9 738.9 203 738C203.1 737.1 204.2 732.2 205 730C205.8 727.8 206.2 726.2 208 725C209.8 723.8 213 723.5 216 723C219 722.5 222.7 721.8 226 722C229.3 722.2 233.3 724 236 724C238.7 724 241.3 724 242 722C242.7 720 240.7 715.7 240 712C239.3 708.3 238 704 238 700C238 696 239.7 692 240 688C240.3 684 240 679.7 240 676C240 672.3 239.7 669.3 240 666C240.3 662.7 240.7 658.7 242 656C243.3 653.3 245.7 652 248 650C250.3 648 253.3 645.7 256 644C258.7 642.3 261.3 641.7 264 640C266.7 638.3 269.7 636 272 634C274.3 632 276 630 278 628C280 626 281.7 623.7 284 622C286.3 620.3 289.3 618.7 292 618C294.7 617.3 297.3 617.3 300 618C302.7 618.7 305 621.7 308 622C311 622.3 314.7 620.3 318 620C321.3 619.7 325.7 619 328 620C330.3 621 331.3 622.7 332 626C332.7 629.3 331.3 636 332 640C332.7 644 334 647.7 336 650C338 652.3 341.3 653.2 344 654C346.7 654.8 352.7 655.2 352 655C351.3 654.8 340.3 653.1 340 652.5C339.7 651.9 347.3 652.9 350 651.2C352.7 649.6 355 645.6 356.2 642.5C357.5 639.4 356.9 635.4 357.5 632.5C358.1 629.6 358.3 627.3 360 625C361.7 622.7 364.2 620.8 367.5 618.8C370.8 616.7 375.8 614.8 380 612.5C384.2 610.2 389.8 606.4 392.5 605C395.2 603.6 394.1 604.8 396 604C397.9 603.2 401.5 601.3 404 600C406.5 598.7 408.7 597.3 411 596C413.3 594.7 415.8 593.5 418 592C420.2 590.5 422.7 589 424 587C425.3 585 425.5 582.2 426 580C426.5 577.8 426 575.8 427 574C428 572.2 430.2 570.3 432 569C433.8 567.7 436.3 567.2 438 566C439.7 564.8 440.8 563.7 442 562C443.2 560.3 445.2 558 445 556C444.8 554 442.2 551.8 441 550C439.8 548.2 437.8 546.5 438 545C438.2 543.5 440 542.2 442 541C444 539.8 448.2 539.5 450 538C451.8 536.5 451.8 533.2 453 532C454.2 530.8 456 530.3 457 531C458 531.7 458.5 534.5 459 536C459.5 537.5 458.8 539 460 540C461.2 541 463.7 542.3 466 542C468.3 541.7 471.3 539.5 474 538C476.7 536.5 480 534.7 482 533C484 531.3 483.7 529.2 486 528C488.3 526.8 492.7 526.7 496 526C499.3 525.3 502.7 525 506 524C509.3 523 513.3 521.8 516 520C518.7 518.2 520 515.3 522 513C524 510.7 526 507.8 528 506C530 504.2 532 502.3 534 502C536 501.7 538.3 502.7 540 504C541.7 505.3 542.3 508.3 544 510C545.7 511.7 548 513.5 550 514C552 514.5 554.3 514 556 513C557.7 512 559 510.2 560 508C561 505.8 561 502.3 562 500C563 497.7 564.3 495.5 566 494C567.7 492.5 569.7 491 572 491C574.3 491 577.7 493.5 580 494C582.3 494.5 584.3 494.8 586 494C587.7 493.2 588.7 491 590 489C591.3 487 592.3 483.8 594 482C595.7 480.2 597.3 479.3 600 478C602.7 476.7 607.5 475.3 610 474C612.5 472.7 612.1 470.2 615 470C617.9 469.8 623.8 470.8 627.5 472.5C631.2 474.2 633.8 478.1 637.5 480C641.2 481.9 645.8 483.8 650 483.8C654.2 483.8 658.3 481.9 662.5 480C666.7 478.1 670.8 475.4 675 472.5C679.2 469.6 683.3 465.2 687.5 462.5C691.7 459.8 695.8 457.9 700 456.2C704.2 454.6 708.3 454 712.5 452.5C716.7 451 720.4 449.6 725 447.5C729.6 445.4 735 441.9 740 440C745 438.1 750 436.7 755 436.2C760 435.8 765.8 436 770 437.5C774.2 439 777.1 442.1 780 445C782.9 447.9 784.6 454.2 787.5 455C790.4 455.8 794.2 452.5 797.5 450C800.8 447.5 804.2 443.3 807.5 440C810.8 436.7 814.6 433.3 817.5 430C820.4 426.7 823.3 423.1 825 420C826.7 416.9 825.8 413.7 827.5 411.2C829.2 408.8 831.2 407 835 405.5C838.8 404 845 403.4 850 402.5C855 401.6 860 400.8 865 400C870 399.2 875.4 398.8 880 397.5C884.6 396.2 889.2 394.6 892.5 392.5C895.8 390.4 897.1 387.5 900 385C902.9 382.5 906.7 380 910 377.5C913.3 375 917.5 372.5 920 370C922.5 367.5 923.3 365.8 925 362.5C926.7 359.2 909.2 360.4 930 350C950.8 339.6 1030 366.7 1050 300C1070 233.3 1233.3 8.3 1050 -50C866.7 -108.3 133.3 -208.3 -50 -50C-233.3 108.3 -71.7 745.4 -50 900C-28.3 1054.7 57.4 881 80.2 877.9Z" fill="#61b8ff"/>
<path d="M742.5 450C742.9 447.3 746.2 445 750 443.8C753.8 442.5 761.2 441.9 765 442.5C768.8 443.1 771.5 445 772.5 447.5C773.5 450 773.3 455 771.2 457.5C769.2 460 764 462.1 760 462.5C756 462.9 750.4 462.1 747.5 460C744.6 457.9 742.1 452.7 742.5 450Z" fill="#a6f28f"/>
<path d="M462 588C462.5 586.3 464.8 584.2 467 583C469.2 581.8 473 580.7 475 581C477 581.3 478.8 583.3 479 585C479.2 586.7 477.5 589.5 476 591C474.5 592.5 472 593.7 470 594C468 594.3 465.3 594 464 593C462.7 592 461.5 589.7 462 588Z" fill="#61b8ff"/>
<ellipse cx="607" cy="496" rx="3" ry="3" fill="#61b8ff"/>
<path d="M587.5 690C587.7 686.7 590 682.1 592.5 680C595 677.9 599.4 676.9 602.5 677.5C605.6 678.1 609.4 681 611.2 683.8C613.1 686.5 614.2 690.6 613.8 693.8C613.3 696.9 611 700.6 608.8 702.5C606.5 704.4 602.9 705.4 600 705C597.1 704.6 593.3 702.5 591.2 700C589.2 697.5 587.3 693.3 587.5 690Z" fill="#a6f28f"/>
<path d="M617.5 715C615.8 713.3 621.7 707.9 625 705C628.3 702.1 633.8 699.6 637.5 697.5C641.2 695.4 643.8 693.8 647.5 692.5C651.2 691.2 656.7 690 660 690C663.3 690 666.7 691.2 667.5 692.5C668.3 693.8 667.9 696.2 665 697.5C662.1 698.8 654.2 698.3 650 700C645.8 701.7 642.5 705 640 707.5C637.5 710 638.8 713.8 635 715C631.2 716.2 619.2 716.7 617.5 715Z" fill="#a6f28f"/>
<path d="M500 670C502.5 662.1 509.6 667.5 515 667.5C520.4 667.5 527.9 669.2 532.5 670C537.1 670.8 541.2 670.8 542.5 672.5C543.8 674.2 542.1 677.5 540 680C537.9 682.5 532.1 684.2 530 687.5C527.9 690.8 528.3 695.4 527.5 700C526.7 704.6 529.6 712.5 525 715C520.4 717.5 504.2 722.5 500 715C495.8 707.5 497.5 677.9 500 670Z" fill="#a6f28f"/>
<ellipse cx="501.2" cy="611.2" rx="3.8" ry="6.2" fill="#a6f28f"/>
<path d="M545 600C545.2 596.2 545.4 591.7 547.5 590C549.6 588.3 555 589.2 557.5 590C560 590.8 562.1 592.1 562.5 595C562.9 597.9 561.7 604.2 560 607.5C558.3 610.8 554.8 614.2 552.5 615C550.2 615.8 547.5 615 546.2 612.5C545 610 544.8 603.8 545 600Z" fill="#a6f28f"/>
<path d="M473.8 700C472.9 696.9 472.3 691.7 472.5 687.5C472.7 683.3 473.3 678.8 475 675C476.7 671.2 479.2 666.7 482.5 665C485.8 663.3 490.8 664.4 495 665C499.2 665.6 503.3 667.9 507.5 668.8C511.7 669.6 516.2 669 520 670C523.8 671 526.7 674.6 530 675C533.3 675.4 537.9 672.1 540 672.5C542.1 672.9 543.3 675.4 542.5 677.5C541.7 679.6 537.5 682.5 535 685C532.5 687.5 530 690.4 527.5 692.5C525 694.6 522.5 695.8 520 697.5C517.5 699.2 515 700.8 512.5 702.5C510 704.2 507.9 706.2 505 707.5C502.1 708.8 498.3 709.6 495 710C491.7 710.4 487.9 710.6 485 710C482.1 709.4 479.4 707.9 477.5 706.2C475.6 704.6 474.6 703.1 473.8 700Z" fill="#a6f28f"/>
<path d="M478.8 756.2C480.8 754.8 482.3 758.3 485 760C487.7 761.7 492.9 764.6 495 766.2C497.1 767.9 498.1 768.5 497.5 770C496.9 771.5 493.1 772.7 491.2 775C489.4 777.3 488.1 783.3 486.2 783.8C484.4 784.2 482.3 780 480 777.5C477.7 775 472.7 772.3 472.5 768.8C472.3 765.2 476.7 757.7 478.8 756.2Z" fill="#a6f28f"/>
<path d="M547.5 732.5C530.8 730 550.4 722.5 552.5 720C554.6 717.5 557.5 717.1 560 717.5C562.5 717.9 565 721.2 567.5 722.5C570 723.8 573.3 726.7 575 725C576.7 723.3 575.8 715 577.5 712.5C579.2 710 582.5 709.6 585 710C587.5 710.4 590.8 712.5 592.5 715C594.2 717.5 593.3 722.9 595 725C596.7 727.1 600 728.3 602.5 727.5C605 726.7 607.5 722.5 610 720C612.5 717.5 615 714.6 617.5 712.5C620 710.4 622.1 709.2 625 707.5C627.9 705.8 632.1 704.6 635 702.5C637.9 700.4 639.6 697.5 642.5 695C645.4 692.5 650.8 680.8 652.5 687.5C654.2 694.2 670 727.5 652.5 735C635 742.5 564.2 735 547.5 732.5Z" fill="#a6f28f"/>
<path d="M587.5 692.5C587.7 689.6 588.3 684.9 590 682.5C591.7 680.1 594.6 678.2 597.5 678C600.4 677.8 604.8 679.2 607.5 681.2C610.2 683.2 612.9 687.1 613.8 690C614.6 692.9 614 696.5 612.5 698.8C611 701 607.9 702.9 605 703.8C602.1 704.6 597.7 704.4 595 703.8C592.3 703.1 590 701.9 588.8 700C587.5 698.1 587.3 695.4 587.5 692.5Z" fill="#a6f28f"/>
<ellipse cx="241.8" cy="858.2" rx="5.5" ry="6.5" fill="#61b8ff"/>
<ellipse cx="307" cy="826.2" rx="7" ry="8" fill="#61b8ff"/>
<ellipse cx="326.2" cy="827.5" rx="6" ry="7" fill="#a6f28f"/>
<path d="M268 648C268.3 646.2 271.3 644.3 274 643C276.7 641.7 280 640.3 284 640C288 639.7 293.7 640.2 298 641C302.3 641.8 307 643.2 310 645C313 646.8 315 649.2 316 652C317 654.8 317 659 316 662C315 665 312.7 668.7 310 670C307.3 671.3 303.3 671 300 670C296.7 669 293.3 666 290 664C286.7 662 283 659.7 280 658C277 656.3 274 655.7 272 654C270 652.3 267.7 649.8 268 648Z" fill="#a6f28f"/>
<path d="M298 674C299.2 672 302.2 671.3 304 672C305.8 672.7 308 675.3 309 678C310 680.7 310.2 684.7 310 688C309.8 691.3 309.3 696 308 698C306.7 700 303.7 700.7 302 700C300.3 699.3 298.8 696.7 298 694C297.2 691.3 297 687.3 297 684C297 680.7 296.8 676 298 674Z" fill="#a6f28f"/>
<path d="M245 700C245.5 695.7 246.5 690.2 248 686C249.5 681.8 251.8 677.8 254 675C256.2 672.2 259.2 668.5 261 669C262.8 669.5 263.8 674.5 265 678C266.2 681.5 266.5 686.3 268 690C269.5 693.7 272 697 274 700C276 703 278.7 705 280 708C281.3 711 283 715.7 282 718C281 720.3 277 722.3 274 722C271 721.7 267 716.3 264 716C261 715.7 258.7 719.3 256 720C253.3 720.7 249.8 721.3 248 720C246.2 718.7 245.5 715.3 245 712C244.5 708.7 244.5 704.3 245 700Z" fill="#a6f28f"/>
<path d="M276 738C276.3 736.5 278 734 280 733C282 732 285.3 731.5 288 732C290.7 732.5 294.3 734.3 296 736C297.7 737.7 298.7 740.5 298 742C297.3 743.5 294.3 744.7 292 745C289.7 745.3 286.3 744.5 284 744C281.7 743.5 279.3 743 278 742C276.7 741 275.7 739.5 276 738Z" fill="#a6f28f"/>
<ellipse cx="238" cy="758" rx="1.8" ry="1.8" fill="#3dba3d"/>
<ellipse cx="386.2" cy="717" rx="15" ry="12" fill="#3dba3d"/>
<path d="M200 153.8C200.8 155.4 206.7 157.9 210 160C213.3 162.1 215 165.6 220 166.2C225 166.9 234.6 165.4 240 163.8C245.4 162.1 248.8 158.5 252.5 156.2C256.2 154 258.8 150.4 262.5 150C266.2 149.6 271.7 154.6 275 153.8C278.3 152.9 282.5 149 282.5 145C282.5 141 278.8 133.8 275 130C271.2 126.2 265.8 123.3 260 122.5C254.2 121.7 246.7 124.2 240 125C233.3 125.8 225.4 125.4 220 127.5C214.6 129.6 210 133.8 207.5 137.5C205 141.2 206.2 147.3 205 150C203.8 152.7 199.2 152.1 200 153.8Z" fill="#3dba3d"/>
<path d="M275 157.5C278.3 159.2 285 170.4 285 175C285 179.6 277.1 180.8 275 185C272.9 189.2 271.2 196.9 272.5 200C273.8 203.1 277.9 203.8 282.5 203.8C287.1 203.8 295.2 199.6 300 200C304.8 200.4 310.2 203.3 311.2 206.2C312.3 209.2 308.5 213.5 306.2 217.5C304 221.5 299.4 225 297.5 230C295.6 235 296.7 242.5 295 247.5C293.3 252.5 290 256.7 287.5 260C285 263.3 279.6 265 280 267.5C280.4 270 287.7 272.1 290 275C292.3 277.9 293.8 281.9 293.8 285C293.8 288.1 289.4 290.4 290 293.8C290.6 297.1 295.4 301 297.5 305C299.6 309 302.5 313.8 302.5 317.5C302.5 321.2 300.4 325.6 297.5 327.5C294.6 329.4 288.8 327.5 285 328.8C281.2 330 279.2 332.9 275 335C270.8 337.1 263.8 340.8 260 341.2C256.2 341.7 252.5 339.4 252.5 337.5C252.5 335.6 256.7 332.9 260 330C263.3 327.1 269.2 323.8 272.5 320C275.8 316.2 278.8 311.2 280 307.5C281.2 303.8 281.2 300.4 280 297.5C278.8 294.6 273.8 292.9 272.5 290C271.2 287.1 272.5 283.1 272.5 280C272.5 276.9 274.6 273.8 272.5 271.2C270.4 268.8 264.2 266.9 260 265C255.8 263.1 250 262.1 247.5 260C245 257.9 244.2 255.4 245 252.5C245.8 249.6 250 247.1 252.5 242.5C255 237.9 260 230.4 260 225C260 219.6 254.4 215.4 252.5 210C250.6 204.6 248.3 197.9 248.8 192.5C249.2 187.1 252.3 182.1 255 177.5C257.7 172.9 261.7 168.3 265 165C268.3 161.7 271.7 155.8 275 157.5Z" fill="#3dba3d"/>
<path d="M200 209.5C203.3 208.7 208.8 209.9 212.5 212.5C216.2 215.1 218.8 219.2 222.5 225C226.2 230.8 234.6 242.5 235 247.5C235.4 252.5 229.2 252.5 225 255C220.8 257.5 214.6 261.2 210 262.5C205.4 263.8 200.6 264.6 197.5 262.5C194.4 260.4 192.1 255 191.2 250C190.4 245 192.3 237.9 192.5 232.5C192.7 227.1 191.2 221.3 192.5 217.5C193.8 213.7 196.7 210.3 200 209.5Z" fill="#3dba3d"/>
<ellipse cx="141.2" cy="225" rx="6" ry="5.5" fill="#3dba3d"/>
<ellipse cx="315" cy="237.5" rx="6" ry="5" fill="#3dba3d"/>
<ellipse cx="335" cy="263.8" rx="7.5" ry="8" fill="#3dba3d"/>
<ellipse cx="242" cy="315.5" rx="3.8" ry="2.5" fill="#3dba3d"/>
<ellipse cx="346.2" cy="212.5" rx="5" ry="6.2" fill="#3dba3d"/>
<path d="M307.5 340C308.3 337.1 313.3 335 317.5 335C321.7 335 327.9 340.4 332.5 340C337.1 339.6 342.1 335 345 332.5C347.9 330 347.5 327.1 350 325C352.5 322.9 358.3 313.3 360 320C361.7 326.7 365.8 357.5 360 365C354.2 372.5 332.9 367.1 325 365C317.1 362.9 315.4 356.7 312.5 352.5C309.6 348.3 306.7 342.9 307.5 340Z" fill="#3dba3d"/>
<ellipse cx="392.5" cy="179.5" rx="9.5" ry="8.2" fill="#3dba3d"/>
<path d="M437.5 172.5C436.7 176.2 437.9 181.7 440 185C442.1 188.3 445.8 191 450 192.5C454.2 194 460 194.4 465 193.8C470 193.1 475.8 191 480 188.8C484.2 186.5 487.1 183.5 490 180C492.9 176.5 495.2 171 497.5 167.5C499.8 164 503.3 161.7 503.8 158.8C504.2 155.8 504 152.3 500 150C496 147.7 486.7 145 480 145C473.3 145 465.8 147.1 460 150C454.2 152.9 448.8 158.8 445 162.5C441.2 166.2 438.3 168.8 437.5 172.5Z" fill="#3dba3d"/>
<ellipse cx="430" cy="227.5" rx="11.5" ry="8.2" fill="#3dba3d" transform="rotate(-25 430 227.5)"/>
<ellipse cx="554.5" cy="267" rx="9.5" ry="9.5" fill="#3dba3d"/>
<path d="M367.5 290C368.5 287.3 371.2 282.9 375 281.2C378.8 279.6 385.4 279.6 390 280C394.6 280.4 399.4 282.1 402.5 283.8C405.6 285.4 409.2 287.7 408.8 290C408.3 292.3 403.5 295.2 400 297.5C396.5 299.8 391.7 302.7 387.5 303.8C383.3 304.8 378.1 304.8 375 303.8C371.9 302.7 370 299.8 368.8 297.5C367.5 295.2 366.5 292.7 367.5 290Z" fill="#3dba3d"/>
<path d="M415 290C417.5 287.5 426.7 284 432.5 282.5C438.3 281 445.4 282.3 450 281.2C454.6 280.2 456.7 277.7 460 276.2C463.3 274.8 466.2 273.1 470 272.5C473.8 271.9 479.2 271.2 482.5 272.5C485.8 273.8 488.3 276.7 490 280C491.7 283.3 492.5 287.9 492.5 292.5C492.5 297.1 490 302.9 490 307.5C490 312.1 493.3 316.2 492.5 320C491.7 323.8 487.9 327.9 485 330C482.1 332.1 478.3 333.3 475 332.5C471.7 331.7 467.9 326.7 465 325C462.1 323.3 460 321.7 457.5 322.5C455 323.3 452.1 327.1 450 330C447.9 332.9 447.1 336.7 445 340C442.9 343.3 440.8 345.8 437.5 350C434.2 354.2 430.4 362.5 425 365C419.6 367.5 407.9 367.9 405 365C402.1 362.1 405.8 352.5 407.5 347.5C409.2 342.5 412.5 339.6 415 335C417.5 330.4 421.2 324.6 422.5 320C423.8 315.4 423.3 311.2 422.5 307.5C421.7 303.8 418.8 300.4 417.5 297.5C416.2 294.6 412.5 292.5 415 290Z" fill="#3dba3d"/>
<path d="M340 325C341.7 317.5 346.7 321.7 350 320C353.3 318.3 356.2 315.6 360 315C363.8 314.4 368.8 314.6 372.5 316.2C376.2 317.9 379.6 321.5 382.5 325C385.4 328.5 388.3 332.9 390 337.5C391.7 342.1 392.3 347.9 392.5 352.5C392.7 357.1 400 362.9 391.2 365C382.5 367.1 348.5 371.7 340 365C331.5 358.3 338.3 332.5 340 325Z" fill="#3dba3d"/>
<ellipse cx="275" cy="595.8" rx="5" ry="3.5" fill="#3dba3d" transform="rotate(-30 275 595.8)"/>
<path d="M585 82.5C581 83.8 585.4 87.5 586.2 90C587.1 92.5 587.7 95.4 590 97.5C592.3 99.6 597.1 102.1 600 102.5C602.9 102.9 605.6 101.7 607.5 100C609.4 98.3 610.8 95.4 611.2 92.5C611.7 89.6 614.4 84.2 610 82.5C605.6 80.8 589 81.2 585 82.5Z" fill="#3dba3d"/>
<path d="M660 62.5C657.9 65.8 661.9 74.6 662.5 80C663.1 85.4 663.8 90.4 663.8 95C663.8 99.6 663.8 103.8 662.5 107.5C661.2 111.2 657.5 114.2 656.2 117.5C655 120.8 654.4 124.6 655 127.5C655.6 130.4 657.9 134 660 135C662.1 136 665.4 135.4 667.5 133.8C669.6 132.1 670.4 126.9 672.5 125C674.6 123.1 677.1 122.3 680 122.5C682.9 122.7 686.7 125.8 690 126.2C693.3 126.7 696.7 125 700 125C703.3 125 706.7 125.6 710 126.2C713.3 126.9 717.5 130.6 720 128.8C722.5 126.9 725.8 121.5 725 115C724.2 108.5 720.8 97.5 715 90C709.2 82.5 696.7 75 690 70C683.3 65 680 61.2 675 60C670 58.8 662.1 59.2 660 62.5Z" fill="#3dba3d"/>
<path d="M575 140C577.1 136.5 579.6 133.1 582.5 131.2C585.4 129.4 589.4 128.1 592.5 128.8C595.6 129.4 599.2 131.9 601.2 135C603.3 138.1 604.6 142.9 605 147.5C605.4 152.1 605 158.3 603.8 162.5C602.5 166.7 600.2 170.4 597.5 172.5C594.8 174.6 590.2 173.8 587.5 175C584.8 176.2 582.5 177.1 581.2 180C580 182.9 580.4 188.3 580 192.5C579.6 196.7 580 201.7 578.8 205C577.5 208.3 574.8 212.1 572.5 212.5C570.2 212.9 567.5 210 565 207.5C562.5 205 559.4 201.2 557.5 197.5C555.6 193.8 554.2 189.2 553.8 185C553.3 180.8 553.8 176.2 555 172.5C556.2 168.8 558.8 165.8 561.2 162.5C563.8 159.2 567.7 156.2 570 152.5C572.3 148.8 572.9 143.5 575 140Z" fill="#3dba3d"/>
<path d="M643.8 157.5C644.4 155.2 645.6 151.9 647.5 150C649.4 148.1 653.1 146.2 655 146.2C656.9 146.2 659 147.9 658.8 150C658.5 152.1 655.6 156.2 653.8 158.8C651.9 161.2 649.2 164.2 647.5 165C645.8 165.8 644.4 165 643.8 163.8C643.1 162.5 643.1 159.8 643.8 157.5Z" fill="#3dba3d"/>
<ellipse cx="699.2" cy="171.8" rx="2.2" ry="2" fill="#3dba3d"/>
<ellipse cx="554.5" cy="267" rx="9.5" ry="8.8" fill="#3dba3d"/>
<path d="M680 95C672.9 96.7 670.8 101.7 667.5 105C664.2 108.3 661.9 111.2 660 115C658.1 118.8 656 124.2 656.2 127.5C656.5 130.8 659.2 134.2 661.2 135C663.3 135.8 666.9 134.2 668.8 132.5C670.6 130.8 670.2 126.7 672.5 125C674.8 123.3 679.2 121.7 682.5 122.5C685.8 123.3 688.8 128.1 692.5 130C696.2 131.9 700.8 133.3 705 133.8C709.2 134.2 714.6 131 717.5 132.5C720.4 134 722.5 138.3 722.5 142.5C722.5 146.7 719 152.5 717.5 157.5C716 162.5 713.8 167.9 713.8 172.5C713.8 177.1 715.8 180.4 717.5 185C719.2 189.6 722.5 195.4 723.8 200C725 204.6 725.6 208.3 725 212.5C724.4 216.7 722.5 220.4 720 225C717.5 229.6 712.9 235.8 710 240C707.1 244.2 704.2 246.7 702.5 250C700.8 253.3 702.5 256.7 700 260C697.5 263.3 691.7 267.5 687.5 270C683.3 272.5 677.9 272.9 675 275C672.1 277.1 669.6 280.4 670 282.5C670.4 284.6 673.8 286.5 677.5 287.5C681.2 288.5 687.9 288.8 692.5 288.8C697.1 288.8 702.1 286.9 705 287.5C707.9 288.1 707.5 291.2 710 292.5C712.5 293.8 716.7 295.4 720 295C723.3 294.6 727.3 292.1 730 290C732.7 287.9 733.8 285 736.2 282.5C738.8 280 741.9 277.1 745 275C748.1 272.9 752.7 270 755 270C757.3 270 759.2 272.5 758.8 275C758.3 277.5 755.2 282.1 752.5 285C749.8 287.9 744.6 289.6 742.5 292.5C740.4 295.4 740 298.3 740 302.5C740 306.7 740.8 313.8 742.5 317.5C744.2 321.2 747.5 322.9 750 325C752.5 327.1 755 328.1 757.5 330C760 331.9 762.1 334.4 765 336.2C767.9 338.1 771.7 341.2 775 341.2C778.3 341.2 781.2 337.7 785 336.2C788.8 334.8 793.8 333.1 797.5 332.5C801.2 331.9 805 331.2 807.5 332.5C810 333.8 810.4 337.1 812.5 340C814.6 342.9 817.5 347.7 820 350C822.5 352.3 824.6 352.1 827.5 353.8C830.4 355.4 833.8 358.1 837.5 360C841.2 361.9 845.8 364.2 850 365C854.2 365.8 858.3 365.8 862.5 365C866.7 364.2 871.7 362.1 875 360C878.3 357.9 878.3 355.8 882.5 352.5C886.7 349.2 897.1 362.9 900 340C902.9 317.1 925 235.8 900 215C875 194.2 774.2 222.9 750 215C725.8 207.1 755 178.3 755 167.5C755 156.7 751.7 155.4 750 150C748.3 144.6 748.3 137.5 745 135C741.7 132.5 734.2 137.5 730 135C725.8 132.5 722.5 125 720 120C717.5 115 716.7 109.2 715 105C713.3 100.8 715.8 96.7 710 95C704.2 93.3 687.1 93.3 680 95Z" fill="#3dba3d"/>
<ellipse cx="650" cy="156.2" rx="7" ry="9.5" fill="#3dba3d" transform="rotate(20 650 156.2)"/>
<ellipse cx="699.2" cy="172" rx="2.2" ry="2" fill="#3dba3d"/>
<path d="M282 766C283 763.7 285 761.3 288 760C291 758.7 296.7 757.7 300 758C303.3 758.3 306.3 759.7 308 762C309.7 764.3 310.3 769 310 772C309.7 775 308.3 778.2 306 780C303.7 781.8 299.3 783 296 783C292.7 783 288.3 781.5 286 780C283.7 778.5 282.7 776.3 282 774C281.3 771.7 281 768.3 282 766Z" fill="#61b8ff"/>
<ellipse cx="226.6" cy="637" rx="1.6" ry="1.8" fill="#3dba3d"/>
<path d="M83.8 665C88.8 667.1 87.3 662.9 90 662.5C92.7 662.1 96.7 661.7 100 662.5C103.3 663.3 106.7 665.8 110 667.5C113.3 669.2 116.2 671.2 120 672.5C123.8 673.8 128.8 676.2 132.5 675C136.2 673.8 138.8 668.3 142.5 665C146.2 661.7 150.8 658.8 155 655C159.2 651.2 164.6 646.7 167.5 642.5C170.4 638.3 172.1 634.2 172.5 630C172.9 625.8 169.2 620.8 170 617.5C170.8 614.2 174.2 610.8 177.5 610C180.8 609.2 186.7 610.8 190 612.5C193.3 614.2 195.8 617.1 197.5 620C199.2 622.9 200 626.7 200 630C200 633.3 199.2 636.2 197.5 640C195.8 643.8 192.5 648.8 190 652.5C187.5 656.2 184.2 658.8 182.5 662.5C180.8 666.2 180 670.4 180 675C180 679.6 181.7 685.8 182.5 690C183.3 694.2 183.8 696.7 185 700C186.2 703.3 188.3 706.7 190 710C191.7 713.3 194.6 715.8 195 720C195.4 724.2 193.3 730 192.5 735C191.7 740 190.9 747.4 190 750C189.1 752.6 188.9 748.9 187.3 750.4C185.7 751.9 182.8 756.3 180.5 758.9C178.2 761.5 176.2 763.7 173.7 765.7C171.1 767.7 167.8 769.8 165.2 770.8C162.6 771.8 162.9 769.9 158.4 771.6C153.9 773.4 147.7 777.9 138 781C128.3 784.1 116.3 803.5 100 790C83.7 776.5 46.7 723.3 40 700C33.3 676.7 52.7 655.8 60 650C67.3 644.2 78.8 662.9 83.8 665Z" fill="#3dba3d"/>
<path d="M137.5 632.5C137.5 629.2 140 625.4 142.5 622.5C145 619.6 149.6 615.8 152.5 615C155.4 614.2 159.2 615 160 617.5C160.8 620 159.2 626.2 157.5 630C155.8 633.8 152.5 637.9 150 640C147.5 642.1 144.6 643.8 142.5 642.5C140.4 641.2 137.5 635.8 137.5 632.5Z" fill="#3dba3d"/>
<path d="M340 580C340.8 576.7 344.2 574.6 347.5 572.5C350.8 570.4 355.8 569.2 360 567.5C364.2 565.8 369.2 562.9 372.5 562.5C375.8 562.1 377.5 563.3 380 565C382.5 566.7 385 570 387.5 572.5C390 575 392.1 578.8 395 580C397.9 581.2 404.6 579.2 405 580C405.4 580.8 400.8 584 397.5 585C394.2 586 389.2 585.8 385 586.2C380.8 586.7 376.7 586.5 372.5 587.5C368.3 588.5 363.8 591.2 360 592.5C356.2 593.8 352.9 595 350 595C347.1 595 344.2 595 342.5 592.5C340.8 590 339.2 583.3 340 580Z" fill="#3dba3d"/>
<ellipse cx="386.2" cy="717" rx="13.2" ry="10.5" fill="#61b8ff"/>
<path d="M153.8 402.5C157.9 401.5 164.8 401.7 170 401.2C175.2 400.8 180.8 399.4 185 400C189.2 400.6 192.1 402.9 195 405C197.9 407.1 200.4 409.6 202.5 412.5C204.6 415.4 206.2 419.2 207.5 422.5C208.8 425.8 208.8 429.6 210 432.5C211.2 435.4 213.8 437.1 215 440C216.2 442.9 215.8 447.9 217.5 450C219.2 452.1 222.1 452.3 225 452.5C227.9 452.7 231.7 450.8 235 451.2C238.3 451.7 242.9 453.5 245 455C247.1 456.5 248.3 458.3 247.5 460C246.7 461.7 241.7 462.5 240 465C238.3 467.5 238.3 472.1 237.5 475C236.7 477.9 237.1 480.2 235 482.5C232.9 484.8 227.5 488.1 225 488.8C222.5 489.4 222.5 487.1 220 486.2C217.5 485.4 213.3 484.8 210 483.8C206.7 482.7 202.1 486.9 200 480C197.9 473.1 201.7 447.5 197.5 442.5C193.3 437.5 182.9 450.4 175 450C167.1 449.6 157.5 444 150 440C142.5 436 130.8 431.7 130 426.2C129.2 420.8 141 411.5 145 407.5C149 403.5 149.6 403.5 153.8 402.5Z" fill="#3dba3d"/>
<ellipse cx="197.5" cy="370" rx="8" ry="6.8" fill="#3dba3d"/>
<path d="M256.2 365C257.1 362.7 261.9 361.2 265 361.2C268.1 361.2 271.7 364.8 275 365C278.3 365.2 282.1 362.5 285 362.5C287.9 362.5 292.1 363.8 292.5 365C292.9 366.2 290 368.5 287.5 370C285 371.5 280 372.1 277.5 373.8C275 375.4 273.8 377.3 272.5 380C271.2 382.7 271 387.1 270 390C269 392.9 267.5 396.9 266.2 397.5C265 398.1 263.1 395.8 262.5 393.8C261.9 391.7 262.9 388.1 262.5 385C262.1 381.9 261 378.3 260 375C259 371.7 255.4 367.3 256.2 365Z" fill="#3dba3d"/>
<path d="M228.8 430C228.8 428.5 232.3 422.9 235 420C237.7 417.1 241.7 414.6 245 412.5C248.3 410.4 252.7 407.9 255 407.5C257.3 407.1 258.8 408.3 258.8 410C258.8 411.7 257.3 415.2 255 417.5C252.7 419.8 248.3 421.9 245 423.8C241.7 425.6 237.7 427.7 235 428.8C232.3 429.8 228.8 431.5 228.8 430Z" fill="#3dba3d"/>
<path d="M277.5 440C278.3 437.7 282.1 435 285 432.5C287.9 430 292.5 427.9 295 425C297.5 422.1 297.9 417.5 300 415C302.1 412.5 305 410.4 307.5 410C310 409.6 313.3 410.4 315 412.5C316.7 414.6 317.9 419.2 317.5 422.5C317.1 425.8 314.6 429.6 312.5 432.5C310.4 435.4 307.5 437.9 305 440C302.5 442.1 300.4 443.8 297.5 445C294.6 446.2 290.4 447.3 287.5 447.5C284.6 447.7 281.7 447.5 280 446.2C278.3 445 276.7 442.3 277.5 440Z" fill="#3dba3d"/>
<ellipse cx="268.8" cy="447" rx="5" ry="3.2" fill="#3dba3d"/>
<path d="M327.5 412.5C327.7 410.6 332.3 409.2 335 407.5C337.7 405.8 342.1 402.1 343.8 402.5C345.4 402.9 345.2 407.5 345 410C344.8 412.5 344.4 416 342.5 417.5C340.6 419 336.2 419.6 333.8 418.8C331.2 417.9 327.3 414.4 327.5 412.5Z" fill="#3dba3d"/>
<ellipse cx="324.5" cy="510" rx="3.2" ry="4.5" fill="#3dba3d"/>
<path d="M143.1 811.6C143.1 810 144.5 808.5 146.5 806.5C148.5 804.5 152.2 801.7 155 799.7C157.8 797.7 161.2 795.2 163.5 794.6C165.8 794 167.5 794.9 168.6 796.3C169.7 797.7 169.2 801.7 170.3 803.1C171.4 804.5 173.7 805.1 175.4 804.8C177.1 804.5 179.4 803.4 180.5 801.4C181.6 799.4 181.1 794.7 182.2 792.9C183.3 791.1 185.6 790.1 187.3 790.4C189 790.6 191.3 792.5 192.4 794.6C193.5 796.7 194.7 800.6 194.1 803.1C193.5 805.6 191.3 808.1 189 809.9C186.7 811.7 183.3 813.6 180.5 814.1C177.7 814.7 174.6 814 172 813.3C169.4 812.6 167.5 810.6 165.2 809.9C162.9 809.2 160.7 808.5 158.4 809C156.1 809.6 153.6 812.2 151.6 813.3C149.6 814.4 147.9 816.1 146.5 815.9C145.1 815.6 143.1 813.2 143.1 811.6Z" fill="#3dba3d"/>
<path d="M367.5 362C368.8 360.3 374.6 359.1 380 359.5C385.4 359.9 394.6 362.4 400 364.5C405.4 366.6 409.6 369.1 412.5 372C415.4 374.9 417.9 379.1 417.5 382C417.1 384.9 413.3 388 410 389.5C406.7 391 400.8 392 397.5 390.8C394.2 389.5 392.5 384.7 390 382C387.5 379.3 385.4 376.6 382.5 374.5C379.6 372.4 375 371.6 372.5 369.5C370 367.4 366.2 363.7 367.5 362Z" fill="#3dba3d"/>
<path d="M361.2 404.5C361.2 401.6 362.9 397 365 394.5C367.1 392 370.8 390.3 373.8 389.5C376.7 388.7 380 388.5 382.5 389.5C385 390.5 387.5 393 388.8 395.8C390 398.5 390.6 402.8 390 405.8C389.4 408.7 387.5 411.8 385 413.2C382.5 414.7 378.3 414.7 375 414.5C371.7 414.3 367.3 413.7 365 412C362.7 410.3 361.2 407.4 361.2 404.5Z" fill="#3dba3d"/>
<ellipse cx="433.8" cy="398.2" rx="9.5" ry="8.8" fill="#3dba3d"/>
<ellipse cx="456.8" cy="382" rx="6.2" ry="3.8" fill="#3dba3d"/>
<ellipse cx="586" cy="425" rx="4" ry="4.4" fill="#3dba3d"/>
<ellipse cx="585" cy="452" rx="5" ry="6" fill="#3dba3d"/>
<ellipse cx="578" cy="473" rx="3" ry="3" fill="#3dba3d"/>
<ellipse cx="548" cy="497" rx="4.4" ry="3.6" fill="#3dba3d"/>
<ellipse cx="568" cy="367" rx="4" ry="3" fill="#3dba3d"/>
<ellipse cx="243" cy="140" rx="9" ry="5.5" fill="#a6f28f"/>
<ellipse cx="260" cy="133" rx="3.5" ry="4.5" fill="#61b8ff"/>
<ellipse cx="263.8" cy="193" rx="6" ry="13.8" fill="#a6f28f" transform="rotate(8 263.8 193)"/>
<ellipse cx="275.8" cy="251.8" rx="5.5" ry="4.8" fill="#a6f28f"/>
<ellipse cx="284.5" cy="282" rx="3.5" ry="3.5" fill="#a6f28f"/>
<ellipse cx="277" cy="232.5" rx="6.5" ry="4.2" fill="#61b8ff"/>
<path d="M283.8 310C284.4 307.5 287.9 304.6 290 305C292.1 305.4 294.8 309.6 296.2 312.5C297.7 315.4 299.4 320.4 298.8 322.5C298.1 324.6 294.6 325.4 292.5 325C290.4 324.6 287.7 322.5 286.2 320C284.8 317.5 283.1 312.5 283.8 310Z" fill="#a6f28f"/>
<ellipse cx="272.5" cy="322.5" rx="4.5" ry="3.5" fill="#a6f28f" transform="rotate(-30 272.5 322.5)"/>
<ellipse cx="467.5" cy="157.5" rx="6.8" ry="4" fill="#a6f28f" transform="rotate(-30 467.5 157.5)"/>
<ellipse cx="382.5" cy="292" rx="9" ry="5" fill="#a6f28f"/>
<ellipse cx="437.5" cy="293.8" rx="8" ry="7" fill="#a6f28f"/>
<ellipse cx="465" cy="305.5" rx="10.5" ry="11.2" fill="#a6f28f"/>
<path d="M692.5 103.8C692.9 101.5 697.5 98.8 700 97.5C702.5 96.2 705.4 94.9 707.5 96.2C709.6 97.6 712.7 102.8 712.5 105.5C712.3 108.2 708.8 111.5 706.2 112.5C703.8 113.5 699.8 112.7 697.5 111.2C695.2 109.8 692.1 106 692.5 103.8Z" fill="#a6f28f"/>
<ellipse cx="592.5" cy="157.5" rx="6" ry="7.5" fill="#a6f28f"/>
<ellipse cx="566.8" cy="172" rx="5.5" ry="7" fill="#a6f28f"/>
<path d="M692.5 100C692.9 97.9 697.5 97.1 700 97.5C702.5 97.9 705.6 100.4 707.5 102.5C709.4 104.6 711.7 108.3 711.2 110C710.8 111.7 707.3 112.5 705 112.5C702.7 112.5 699.6 112.1 697.5 110C695.4 107.9 692.1 102.1 692.5 100Z" fill="#a6f28f"/>
<path d="M740 162.5C741.2 161.9 745.6 164.6 747.5 166.2C749.4 167.9 751.5 170.8 751.2 172.5C751 174.2 748.1 176.7 746.2 176.2C744.4 175.8 741 172.3 740 170C739 167.7 738.8 163.1 740 162.5Z" fill="#a6f28f"/>
<ellipse cx="718.8" cy="283.2" rx="5" ry="6" fill="#a6f28f" transform="rotate(30 718.8 283.2)"/>
<path d="M795 241.2C789.6 245 789.6 249 787.5 252.5C785.4 256 782.9 258.3 782.5 262.5C782.1 266.7 784.2 272.5 785 277.5C785.8 282.5 787.9 287.9 787.5 292.5C787.1 297.1 783.8 300.8 782.5 305C781.2 309.2 779.6 314.2 780 317.5C780.4 320.8 782.9 324.2 785 325C787.1 325.8 790 324 792.5 322.5C795 321 797.1 317.7 800 316.2C802.9 314.8 806.7 314.2 810 313.8C813.3 313.3 817.5 313.1 820 313.8C822.5 314.4 820 319.8 825 317.5C830 315.2 839.2 311.2 850 300C860.8 288.8 885.8 261.7 890 250C894.2 238.3 886.7 233.3 875 230C863.3 226.7 833.3 228.1 820 230C806.7 231.9 800.4 237.5 795 241.2Z" fill="#a6f28f"/>
<ellipse cx="838" cy="333.8" rx="3" ry="3.5" fill="#61b8ff"/>
<ellipse cx="767.5" cy="479.5" rx="5.5" ry="5.5" fill="#61b8ff"/>
<ellipse cx="324" cy="629" rx="2" ry="2.4" fill="#a6f28f"/>
<ellipse cx="168" cy="688" rx="1.4" ry="2" fill="#a6f28f"/>
<path d="M146.2 700C146.8 697.7 147.5 692.5 148.8 690C150 687.5 152.5 685.2 153.8 685C155 684.8 156.2 686.7 156.2 688.8C156.2 690.8 155 694.8 153.8 697.5C152.5 700.2 150.1 704 148.8 705C147.4 706 145.9 704.6 145.5 703.8C145.1 702.9 145.7 702.3 146.2 700Z" fill="#61b8ff"/>
<ellipse cx="168.2" cy="688" rx="1.5" ry="2" fill="#a6f28f"/>
<path d="M158.4 743.6C159.4 741.8 162.4 738.5 165.2 736.8C168 735.1 172.7 734.1 175.4 733.4C178.1 732.7 180.5 731.7 181.3 732.5C182.2 733.4 181.5 736.4 180.5 738.5C179.5 740.6 177.1 743.3 175.4 745.3C173.7 747.3 172.3 749.4 170.3 750.4C168.3 751.4 165.3 751.7 163.5 751.2C161.7 750.8 160.1 749.1 159.2 747.9C158.4 746.6 157.4 745.4 158.4 743.6Z" fill="#a6f28f"/>
<ellipse cx="382.5" cy="575.5" rx="2.5" ry="2.2" fill="#a6f28f"/>
<ellipse cx="191.2" cy="423" rx="7" ry="10.5" fill="#a6f28f" transform="rotate(20 191.2 423)"/>
<ellipse cx="288.2" cy="437" rx="5.5" ry="5" fill="#a6f28f"/>
<ellipse cx="148.2" cy="809.9" rx="1.2" ry="1.2" fill="#a6f28f"/>
<path d="M393.8 372C394 370.8 397.5 368.9 400 369.5C402.5 370.1 407.7 374.1 408.8 375.8C409.8 377.4 407.9 379.3 406.2 379.5C404.6 379.7 400.8 378.2 398.8 377C396.7 375.8 393.5 373.2 393.8 372Z" fill="#a6f28f"/>
<ellipse cx="375" cy="402" rx="5" ry="5" fill="#a6f28f"/>
<path d="M145 256.2C146.2 254.4 151.7 251.9 153.8 252.5C155.8 253.1 156.7 256.2 157.5 260C158.3 263.8 159 270.6 158.8 275C158.5 279.4 159 284.2 156.2 286.2C153.5 288.3 146.9 288.3 142.5 287.5C138.1 286.7 132.7 283.1 130 281.2C127.3 279.4 125 278.1 126.2 276.2C127.5 274.4 134.2 272.1 137.5 270C140.8 267.9 145 266 146.2 263.8C147.5 261.5 143.8 258.1 145 256.2Z" fill="#0000ff"/>
<path d="M166.2 292.5C168.3 291.2 172.1 291.2 175 292.5C177.9 293.8 181.2 300.8 183.8 300C186.2 299.2 186.5 291.2 190 287.5C193.5 283.8 200 280 205 277.5C210 275 215 272.9 220 272.5C225 272.1 230.4 272.9 235 275C239.6 277.1 244.2 282.1 247.5 285C250.8 287.9 252.7 290 255 292.5C257.3 295 260.8 297.7 261.2 300C261.7 302.3 260.2 305.6 257.5 306.2C254.8 306.9 249.2 303.3 245 303.8C240.8 304.2 235.8 306.5 232.5 308.8C229.2 311 226.2 314.4 225 317.5C223.8 320.6 225.8 325 225 327.5C224.2 330 221.9 332.9 220 332.5C218.1 332.1 215.8 328.3 213.8 325C211.7 321.7 210.6 316 207.5 312.5C204.4 309 198.5 305.2 195 303.8C191.5 302.3 187.7 301.9 186.2 303.8C184.8 305.6 186.5 311.5 186.2 315C186 318.5 186.5 322.5 185 325C183.5 327.5 180.4 330 177.5 330C174.6 330 170 327.5 167.5 325C165 322.5 163.3 319.2 162.5 315C161.7 310.8 161.9 303.8 162.5 300C163.1 296.2 164.2 293.8 166.2 292.5Z" fill="#0000ff"/>
<path d="M315 286.2C315.8 284.2 319.6 281.5 322.5 281.2C325.4 281 329.6 284.2 332.5 285C335.4 285.8 337.7 287.1 340 286.2C342.3 285.4 344.2 280.8 346.2 280C348.3 279.2 351.5 280.2 352.5 281.2C353.5 282.3 354.6 284.4 352.5 286.2C350.4 288.1 342.9 290.2 340 292.5C337.1 294.8 337.5 298.8 335 300C332.5 301.2 327.9 301 325 300C322.1 299 319.2 296 317.5 293.8C315.8 291.5 314.2 288.3 315 286.2Z" fill="#0000ff"/>
<ellipse cx="285" cy="341.2" rx="8" ry="6.5" fill="#0000ff" transform="rotate(-30 285 341.2)"/>
<ellipse cx="394.5" cy="227" rx="7.5" ry="8.2" fill="#0000ff"/>
<ellipse cx="363.8" cy="250" rx="10" ry="9.5" fill="#0000ff"/>
<ellipse cx="437" cy="270.5" rx="2.5" ry="2.5" fill="#0000ff"/>
<ellipse cx="518.8" cy="221.2" rx="8" ry="6" fill="#0000ff"/>
<ellipse cx="403.8" cy="161.2" rx="3.5" ry="2" fill="#0000ff"/>
<path d="M187.5 555C188.5 552.1 191.7 550.4 195 547.5C198.3 544.6 205 540.4 207.5 537.5C210 534.6 207.1 531.7 210 530C212.9 528.3 219.6 529.2 225 527.5C230.4 525.8 237.5 521.2 242.5 520C247.5 518.8 251.2 520.4 255 520C258.8 519.6 262.1 519.2 265 517.5C267.9 515.8 270 512.3 272.5 510C275 507.7 276.7 505 280 503.8C283.3 502.5 288.8 501.9 292.5 502.5C296.2 503.1 299.6 505.4 302.5 507.5C305.4 509.6 307.1 512.7 310 515C312.9 517.3 316.7 520.4 320 521.2C323.3 522.1 324.2 521 330 520C335.8 519 346.7 515 355 515C363.3 515 373.8 517.1 380 520C386.2 522.9 389.2 527.5 392.5 532.5C395.8 537.5 398.8 545.4 400 550C401.2 554.6 400.8 557.9 400 560C399.2 562.1 397.1 562.9 395 562.5C392.9 562.1 390.4 559.2 387.5 557.5C384.6 555.8 381.2 553.8 377.5 552.5C373.8 551.2 368.8 549.6 365 550C361.2 550.4 358.8 553.3 355 555C351.2 556.7 345.8 558.5 342.5 560C339.2 561.5 335.8 562.1 335 563.8C334.2 565.4 338.3 567.9 337.5 570C336.7 572.1 333.8 574.6 330 576.2C326.2 577.9 320 579 315 580C310 581 304.6 581.2 300 582.5C295.4 583.8 291.7 585.8 287.5 587.5C283.3 589.2 279.2 591 275 592.5C270.8 594 266.7 595 262.5 596.2C258.3 597.5 253.3 599.8 250 600C246.7 600.2 244.6 599.2 242.5 597.5C240.4 595.8 239.6 591.7 237.5 590C235.4 588.3 232.9 586.7 230 587.5C227.1 588.3 223.3 592.1 220 595C216.7 597.9 212.5 602.5 210 605C207.5 607.5 207.1 610 205 610C202.9 610 200 607.5 197.5 605C195 602.5 191.7 599.2 190 595C188.3 590.8 187.7 585 187.5 580C187.3 575 188.8 569.2 188.8 565C188.8 560.8 186.5 557.9 187.5 555Z" fill="#0000ff"/>
<path d="M228.8 520C228.8 515.4 228.1 504.4 230 500C231.9 495.6 236.2 494.6 240 493.8C243.8 492.9 249.8 493.5 252.5 495C255.2 496.5 256.2 500 256.2 502.5C256.2 505 254.8 507.7 252.5 510C250.2 512.3 244.2 513.8 242.5 516.2C240.8 518.8 244.6 523.1 242.5 525C240.4 526.9 232.3 528.3 230 527.5C227.7 526.7 228.8 524.6 228.8 520Z" fill="#0000ff"/>
<path d="M287.5 472.5C288.3 470 292.1 467.5 295 465C297.9 462.5 301.7 460 305 457.5C308.3 455 312.1 452.5 315 450C317.9 447.5 320 444.2 322.5 442.5C325 440.8 327.5 439.6 330 440C332.5 440.4 335.8 442.5 337.5 445C339.2 447.5 338.8 452.5 340 455C341.2 457.5 342.9 459.6 345 460C347.1 460.4 350.4 459.2 352.5 457.5C354.6 455.8 356.9 452.9 357.5 450C358.1 447.1 356.7 442.9 356.2 440C355.8 437.1 354.4 435 355 432.5C355.6 430 357.5 426.9 360 425C362.5 423.1 366.7 421.5 370 421.2C373.3 421 377.9 421.9 380 423.8C382.1 425.6 382.9 429.4 382.5 432.5C382.1 435.6 376.2 440.4 377.5 442.5C378.8 444.6 386.7 445.8 390 445C393.3 444.2 395.8 440 397.5 437.5C399.2 435 398.8 432.1 400 430C401.2 427.9 402.1 426.2 405 425C407.9 423.8 413.3 422.5 417.5 422.5C421.7 422.5 426.2 424.6 430 425C433.8 425.4 438.3 408.3 440 425C441.7 441.7 442.1 508.3 440 525C437.9 541.7 431.7 524.2 427.5 525C423.3 525.8 418.8 527.9 415 530C411.2 532.1 407.1 534.2 405 537.5C402.9 540.8 403.3 546.2 402.5 550C401.7 553.8 401.2 557.9 400 560C398.8 562.1 397.1 562.9 395 562.5C392.9 562.1 390 560.4 387.5 557.5C385 554.6 382.9 549.2 380 545C377.1 540.8 374.2 536.7 370 532.5C365.8 528.3 360.6 523.3 355 520C349.4 516.7 339.6 515.4 336.2 512.5C332.9 509.6 336 505.8 335 502.5C334 499.2 331.2 495.8 330 492.5C328.8 489.2 328.3 485.6 327.5 482.5C326.7 479.4 326.2 475.8 325 473.8C323.8 471.7 321.7 469.4 320 470C318.3 470.6 317.1 475.4 315 477.5C312.9 479.6 310.4 481.7 307.5 482.5C304.6 483.3 300.4 482.9 297.5 482.5C294.6 482.1 291.7 481.7 290 480C288.3 478.3 286.7 475 287.5 472.5Z" fill="#0000ff"/>
<path d="M242.5 440C243.5 437.9 246.7 435.2 250 433.8C253.3 432.3 259.2 431.5 262.5 431.2C265.8 431 269.2 431.5 270 432.5C270.8 433.5 269.6 436 267.5 437.5C265.4 439 260.2 439.8 257.5 441.2C254.8 442.7 253.5 445.4 251.2 446.2C249 447.1 245.2 447.3 243.8 446.2C242.3 445.2 241.5 442.1 242.5 440Z" fill="#0000ff"/>
<ellipse cx="267" cy="476.2" rx="2.8" ry="2.2" fill="#0000ff"/>
<path d="M227.5 632.5C227.1 630.4 231.7 627.5 235 625C238.3 622.5 243.3 619.6 247.5 617.5C251.7 615.4 256.2 614.4 260 612.5C263.8 610.6 266.7 608.3 270 606.2C273.3 604.2 276.7 601.9 280 600C283.3 598.1 287.1 595.2 290 595C292.9 594.8 296 596.7 297.5 598.8C299 600.8 299.6 604.8 298.8 607.5C297.9 610.2 295.2 612.9 292.5 615C289.8 617.1 285.8 617.9 282.5 620C279.2 622.1 276.2 625.4 272.5 627.5C268.8 629.6 263.8 630.8 260 632.5C256.2 634.2 252.5 635.8 250 637.5C247.5 639.2 247.1 642.5 245 642.5C242.9 642.5 240.4 639.2 237.5 637.5C234.6 635.8 227.9 634.6 227.5 632.5Z" fill="#0000ff"/>
<path d="M192.5 665C191.7 663.1 195.4 658.3 197.5 655C199.6 651.7 203.1 648.3 205 645C206.9 641.7 207.9 638.3 208.8 635C209.6 631.7 209.2 627.3 210 625C210.8 622.7 212.7 620.8 213.8 621.2C214.8 621.7 215.8 624.4 216.2 627.5C216.7 630.6 215.6 636.2 216.2 640C216.9 643.8 219.2 646.7 220 650C220.8 653.3 222.1 657.7 221.2 660C220.4 662.3 218.1 662.7 215 663.8C211.9 664.8 206.2 666 202.5 666.2C198.8 666.5 193.3 666.9 192.5 665Z" fill="#0000ff"/>
<ellipse cx="355" cy="606.2" rx="9.5" ry="7.5" fill="#0000ff" transform="rotate(-20 355 606.2)"/>
<ellipse cx="415" cy="577" rx="5.5" ry="5" fill="#0000ff"/>
<ellipse cx="393.2" cy="595" rx="4.5" ry="2.5" fill="#0000ff" transform="rotate(-15 393.2 595)"/>
<path d="M340 462C342.1 443.2 350 449.5 352.5 444.5C355 439.5 354.2 435.1 355 432C355.8 428.9 355.4 427.4 357.5 425.8C359.6 424.1 364.2 422.2 367.5 422C370.8 421.8 375 422.4 377.5 424.5C380 426.6 381.7 431.2 382.5 434.5C383.3 437.8 380.8 442.8 382.5 444.5C384.2 446.2 389.6 446.2 392.5 444.5C395.4 442.8 397.5 437.4 400 434.5C402.5 431.6 404.2 428.9 407.5 427C410.8 425.1 415.8 423.7 420 423.2C424.2 422.8 429.8 424.9 432.5 424.5C435.2 424.1 434.2 422.4 436.2 420.8C438.3 419.1 441.9 416 445 414.5C448.1 413 452.1 414.1 455 412C457.9 409.9 459.6 405.8 462.5 402C465.4 398.2 470.4 393.7 472.5 389.5C474.6 385.3 474.2 380.8 475 377C475.8 373.2 476.2 370.3 477.5 367C478.8 363.7 478.8 358.7 482.5 357C486.2 355.3 497.1 343.7 500 357C502.9 370.3 508.3 415.3 500 437C491.7 458.7 459.6 475.8 450 487C440.4 498.2 445 499.9 442.5 504.5C440 509.1 437.5 511.2 435 514.5C432.5 517.8 430.4 521.6 427.5 524.5C424.6 527.4 420.8 529.9 417.5 532C414.2 534.1 409.8 534.5 407.5 537C405.2 539.5 404.4 543.2 403.8 547C403.1 550.8 404.8 556.2 403.8 559.5C402.7 562.8 399.8 566.2 397.5 567C395.2 567.8 392.1 566.6 390 564.5C387.9 562.4 387.9 556.6 385 554.5C382.1 552.4 376.7 552 372.5 552C368.3 552 363.8 553.2 360 554.5C356.2 555.8 353.3 559.1 350 559.5C346.7 559.9 341.7 573.2 340 557C338.3 540.8 337.9 480.8 340 462Z" fill="#0000ff"/>
<ellipse cx="415.5" cy="576.5" rx="5.5" ry="5.5" fill="#0000ff"/>
<ellipse cx="393.8" cy="594.5" rx="4.5" ry="2.5" fill="#0000ff" transform="rotate(-15 393.8 594.5)"/>
<ellipse cx="355" cy="605.8" rx="9.5" ry="7" fill="#0000ff"/>
<path d="M490 338C487.2 340 484.7 346 483 350C481.3 354 481 358.7 480 362C479 365.3 478 367.3 477 370C476 372.7 475.5 375.5 474 378C472.5 380.5 470.7 382.3 468 385C465.3 387.7 460.3 391.2 458 394C455.7 396.8 456 399.3 454 402C452 404.7 448.3 407.7 446 410C443.7 412.3 442.3 414.3 440 416C437.7 417.7 433.3 407.3 432 420C430.7 432.7 430.7 479.7 432 492C433.3 504.3 437.7 494.7 440 494C442.3 493.3 443.7 489.5 446 488C448.3 486.5 451.3 485.8 454 485C456.7 484.2 459.7 482.5 462 483C464.3 483.5 466.7 485.5 468 488C469.3 490.5 469.2 494.7 470 498C470.8 501.3 472.3 505 473 508C473.7 511 472.8 514.3 474 516C475.2 517.7 477.7 518.3 480 518C482.3 517.7 485.3 515.7 488 514C490.7 512.3 494.2 510 496 508C497.8 506 499.3 504 499 502C498.7 500 495.5 498 494 496C492.5 494 490 492 490 490C490 488 492.7 486 494 484C495.3 482 498 480.3 498 478C498 475.7 494 472.3 494 470C494 467.7 496 465.7 498 464C500 462.3 504.3 464 506 460C507.7 456 509 450 508 440C507 430 501.3 417 500 400C498.7 383 501.7 348.3 500 338C498.3 327.7 492.8 336 490 338Z" fill="#0000ff"/>
<path d="M508 440L512 457L518 460L522 468L526 476L530 480L520 480L510 482L505 490L506 498L512 502L520 500L528 494L534 488L540 487L550 485L558 480L565 472L568 464L566 454L564 444L560 434L560 424L562 414L568 406L577 397L585 387L594 379L602 370L580 380L540 410Z" fill="#0000ff"/>
<path d="M604 380C603.2 384.3 604 388.3 603 392C602 395.7 599.8 398.7 598 402C596.2 405.3 593.3 409 592 412C590.7 415 589.7 417.3 590 420C590.3 422.7 593 425 594 428C595 431 595 435.3 596 438C597 440.7 597.7 443 600 444C602.3 445 606.7 445 610 444C613.3 443 616.7 439.7 620 438C623.3 436.3 625.3 434.7 630 434C634.7 433.3 645 450.3 648 434C651 417.7 652 352.3 648 336C644 319.7 627.3 332.3 624 336C620.7 339.7 626.3 353 628 358C629.7 363 636 364 634 366C632 368 620.3 370 616 370C611.7 370 610 364.3 608 366C606 367.7 604.8 375.7 604 380Z" fill="#0000ff"/>
<path d="M480 365C460.4 362.5 482.9 354.2 485 350C487.1 345.8 489.2 343.3 492.5 340C495.8 336.7 501.2 333.3 505 330C508.8 326.7 511.7 323.8 515 320C518.3 316.2 522.5 310.8 525 307.5C527.5 304.2 530 302.5 530 300C530 297.5 527.1 295.4 525 292.5C522.9 289.6 519.6 286.2 517.5 282.5C515.4 278.8 513.8 274.6 512.5 270C511.2 265.4 510.2 258.8 510 255C509.8 251.2 510 249.2 511.2 247.5C512.5 245.8 515.2 244.6 517.5 245C519.8 245.4 522.5 246.7 525 250C527.5 253.3 530.2 260 532.5 265C534.8 270 537.1 276.5 538.8 280C540.4 283.5 539.8 285.6 542.5 286.2C545.2 286.9 550.8 284.4 555 283.8C559.2 283.1 562.9 284 567.5 282.5C572.1 281 577.5 278.3 582.5 275C587.5 271.7 594.2 263.3 597.5 262.5C600.8 261.7 601.7 252.9 602.5 270C603.3 287.1 622.9 349.2 602.5 365C582.1 380.8 499.6 367.5 480 365Z" fill="#0000ff"/>
<path d="M600 200C597.5 200.8 594.4 204.6 592.5 207.5C590.6 210.4 589 214.2 588.8 217.5C588.5 220.8 589.8 225 591.2 227.5C592.7 230 594.8 232.1 597.5 232.5C600.2 232.9 605.8 235 607.5 230C609.2 225 608.8 207.5 607.5 202.5C606.2 197.5 602.5 199.2 600 200Z" fill="#0000ff"/>
<ellipse cx="518.8" cy="220.5" rx="8" ry="6" fill="#0000ff"/>
<path d="M620 157.5C621 155.5 623.4 153 625 153C626.6 153 628.9 154.7 629.5 157.5C630.1 160.3 628.2 166.2 628.8 170C629.2 173.8 632.1 177.1 632.5 180C632.9 182.9 632.7 185.4 631.2 187.5C629.8 189.6 625.6 190.4 623.8 192.5C621.9 194.6 619.8 197.1 620 200C620.2 202.9 624 206.7 625 210C626 213.3 627.5 217.5 626.2 220C625 222.5 620.6 223.3 617.5 225C614.4 226.7 610.8 228.8 607.5 230C604.2 231.2 600.4 233.3 597.5 232.5C594.6 231.7 591.5 227.9 590 225C588.5 222.1 588.1 218.3 588.8 215C589.4 211.7 591 207.9 593.8 205C596.5 202.1 602.3 200.4 605 197.5C607.7 194.6 608.3 191.2 610 187.5C611.7 183.8 613.5 178.8 615 175C616.5 171.2 617.9 167.9 618.8 165C619.6 162.1 619 159.5 620 157.5Z" fill="#0000ff"/>
<path d="M662.5 182.5C662.9 179.6 664.6 175.6 666.2 172.5C667.9 169.4 670.4 165 672.5 163.8C674.6 162.5 677.3 163.1 678.8 165C680.2 166.9 681.2 171.2 681.2 175C681.2 178.8 680.6 184.6 678.8 187.5C676.9 190.4 672.5 192.1 670 192.5C667.5 192.9 665 191.7 663.8 190C662.5 188.3 662.1 185.4 662.5 182.5Z" fill="#0000ff"/>
<ellipse cx="642.5" cy="233.8" rx="8" ry="6.2" fill="#0000ff"/>
<path d="M666.2 227.5C666.9 225.8 672.7 220.8 675 218.8C677.3 216.7 679.4 214.6 680 215C680.6 215.4 680.2 219 678.8 221.2C677.3 223.5 673.3 227.7 671.2 228.8C669.2 229.8 665.6 229.2 666.2 227.5Z" fill="#0000ff"/>
<path d="M510 252.5C510.4 248.5 512.9 247.1 515 246.2C517.1 245.4 520.4 245.6 522.5 247.5C524.6 249.4 525.4 253.8 527.5 257.5C529.6 261.2 533.3 266.2 535 270C536.7 273.8 536.2 277.3 537.5 280C538.8 282.7 539.2 285.2 542.5 286.2C545.8 287.3 552.5 286.7 557.5 286.2C562.5 285.8 567.9 284.8 572.5 283.8C577.1 282.7 581.7 282.3 585 280C588.3 277.7 590 273.1 592.5 270C595 266.9 597.1 263.5 600 261.2C602.9 259 605.8 257.7 610 256.5C614.2 255.3 620.6 254.5 625 254.2C629.4 254 633.3 253.6 636.2 255C639.2 256.4 641.5 259.2 642.5 262.5C643.5 265.8 642.9 270.8 642.5 275C642.1 279.2 639.6 284.2 640 287.5C640.4 290.8 641.7 293.8 645 295C648.3 296.2 655.8 294.6 660 295C664.2 295.4 667.5 295.8 670 297.5C672.5 299.2 697.9 303.8 675 305C652.1 306.2 556.7 305.8 532.5 305C508.3 304.2 531.2 302.1 530 300C528.8 297.9 527.1 295.4 525 292.5C522.9 289.6 519.6 286.2 517.5 282.5C515.4 278.8 513.8 275 512.5 270C511.2 265 509.6 256.5 510 252.5Z" fill="#0000ff"/>
<path d="M595 280C595.8 263.5 597.7 270 600 266.2C602.3 262.5 605.4 259.6 608.8 257.5C612.1 255.4 616 254.1 620 253.5C624 252.9 629 252.2 632.5 253.8C636 255.2 639.6 259 641.2 262.5C642.9 266 642.7 270.8 642.5 275C642.3 279.2 639.6 283.8 640 287.5C640.4 291.2 642.1 295.8 645 297.5C647.9 299.2 653.8 297.9 657.5 297.5C661.2 297.1 664.6 294.2 667.5 295C670.4 295.8 672.1 300.4 675 302.5C677.9 304.6 681.2 305.8 685 307.5C688.8 309.2 694.6 310.4 697.5 312.5C700.4 314.6 702.5 317.1 702.5 320C702.5 322.9 700 327.5 697.5 330C695 332.5 690.8 333.3 687.5 335C684.2 336.7 679.8 337.9 677.5 340C675.2 342.1 673.3 345.8 673.8 347.5C674.2 349.2 676.5 350.8 680 350C683.5 349.2 690.4 345 695 342.5C699.6 340 703.3 336.5 707.5 335C711.7 333.5 715.4 333.3 720 333.8C724.6 334.2 731.2 336 735 337.5C738.8 339 741 340.4 742.5 342.5C744 344.6 744.6 347.5 743.8 350C742.9 352.5 738.8 355 737.5 357.5C736.2 360 760 363.8 736.2 365C712.5 366.2 618.5 379.2 595 365C571.5 350.8 594.2 296.5 595 280Z" fill="#0000ff"/>
<ellipse cx="706.2" cy="307.5" rx="3.5" ry="3.5" fill="#0000ff"/>
<ellipse cx="755.5" cy="350" rx="4" ry="3" fill="#0000ff" transform="rotate(30 755.5 350)"/>
<path d="M595 375C608.3 362.9 652.5 373.1 675 372.5C697.5 371.9 719.4 372 730 371.2C740.6 370.5 735.4 367.8 738.8 368C742.1 368.2 745.6 372.2 750 372.5C754.4 372.8 762.1 371.2 765 370C767.9 368.8 765.8 366 767.5 365C769.2 364 771.2 363.8 775 363.8C778.8 363.8 787.3 363.1 790 365C792.7 366.9 790.8 372.1 791.2 375C791.7 377.9 790.2 380.8 792.5 382.5C794.8 384.2 801.2 383.8 805 385C808.8 386.2 812.1 388.3 815 390C817.9 391.7 821.2 392.9 822.5 395C823.8 397.1 823.8 400 822.5 402.5C821.2 405 817.5 407.9 815 410C812.5 412.1 810.4 413.8 807.5 415C804.6 416.2 800.8 417.7 797.5 417.5C794.2 417.3 790.4 415 787.5 413.8C784.6 412.5 782.5 409.8 780 410C777.5 410.2 774.2 412.9 772.5 415C770.8 417.1 771.7 420 770 422.5C768.3 425 765.8 428.3 762.5 430C759.2 431.7 754.2 431.9 750 432.5C745.8 433.1 741.7 432.5 737.5 433.8C733.3 435 728.8 437.3 725 440C721.2 442.7 718.3 447.9 715 450C711.7 452.1 707.9 452.5 705 452.5C702.1 452.5 700.4 448.8 697.5 450C694.6 451.2 690.8 457.1 687.5 460C684.2 462.9 681.2 465.8 677.5 467.5C673.8 469.2 669.2 470.4 665 470C660.8 469.6 656.2 467.5 652.5 465C648.8 462.5 645 458.3 642.5 455C640 451.7 638.8 448.3 637.5 445C636.2 441.7 637.1 435.8 635 435C632.9 434.2 628.3 438.8 625 440C621.7 441.2 620 441.7 615 442.5C610 443.3 598.3 456.2 595 445C591.7 433.8 581.7 387.1 595 375Z" fill="#0000ff"/>
<path d="M735 342.5C737.9 344.2 741.2 343.3 742.5 345C743.8 346.7 743.3 350 743 352.5C742.7 355 741.8 357.8 740.8 360C739.8 362.2 738.8 363.4 737 365.5C735.2 367.6 740.3 370.1 730 372.5C719.7 374.9 697.5 378.8 675 380C652.5 381.2 608.3 387.1 595 380C581.7 372.9 581.7 343.3 595 337.5C608.3 331.7 655.8 345.4 675 345C694.2 344.6 701.7 336.7 710 335C718.3 333.3 720.8 333.8 725 335C729.2 336.2 732.1 340.8 735 342.5Z" fill="#0000ff"/>
<ellipse cx="833.8" cy="377.5" rx="5.5" ry="4.5" fill="#0000ff" transform="rotate(-30 833.8 377.5)"/>
<ellipse cx="809.5" cy="260.8" rx="5.5" ry="5" fill="#3dba3d"/>
<ellipse cx="852.5" cy="252.5" rx="7.5" ry="5" fill="#3dba3d"/>
<ellipse cx="870.8" cy="383.8" rx="12" ry="8.8" fill="#0000ff"/>
<path d="M827.5 380C827.7 378.2 829.6 375.1 831.2 373.8C832.9 372.4 835.8 371.6 837.5 372C839.2 372.4 841.5 374.7 841.2 376.2C841 377.8 838.1 379.9 836.2 381.2C834.4 382.6 831.5 384.7 830 384.5C828.5 384.3 827.3 381.8 827.5 380Z" fill="#0000ff"/>
<path d="M199 702C199.8 699.5 201.5 696.3 204 694C206.5 691.7 210.7 689.3 214 688C217.3 686.7 221.3 685.7 224 686C226.7 686.3 228.8 688 230 690C231.2 692 231.3 695.7 231 698C230.7 700.3 230.2 702.7 228 704C225.8 705.3 220.7 704.8 218 706C215.3 707.2 214.3 709.8 212 711C209.7 712.2 206.2 713.3 204 713C201.8 712.7 199.8 710.8 199 709C198.2 707.2 198.2 704.5 199 702Z" fill="#0000ff"/>
<ellipse cx="386.2" cy="717" rx="11.2" ry="9" fill="#0000ff"/>
<path d="M210 395C210.8 392.9 212.9 390.8 215 390C217.1 389.2 220.8 389 222.5 390C224.2 391 225.2 393.8 225 396.2C224.8 398.8 222.9 403.1 221.2 405C219.6 406.9 216.9 407.9 215 407.5C213.1 407.1 210.8 404.6 210 402.5C209.2 400.4 209.2 397.1 210 395Z" fill="#0000ff"/>
<path d="M242.5 437.5C243.3 435.2 246.7 433.5 250 432.5C253.3 431.5 259.2 431.2 262.5 431.2C265.8 431.2 269.6 431.7 270 432.5C270.4 433.3 267.1 435.2 265 436.2C262.9 437.3 259.6 437.3 257.5 438.8C255.4 440.2 254.6 443.8 252.5 445C250.4 446.2 246.7 447.5 245 446.2C243.3 445 241.7 439.8 242.5 437.5Z" fill="#0000ff"/>
<path d="M310 385C310.8 382.3 314.2 379.8 317.5 377.5C320.8 375.2 326.7 372.9 330 371.2C333.3 369.6 335.6 367.1 337.5 367.5C339.4 367.9 341 371.2 341.2 373.8C341.5 376.2 340.6 380 338.8 382.5C336.9 385 333.1 386.9 330 388.8C326.9 390.6 322.9 392.9 320 393.8C317.1 394.6 314.2 395.2 312.5 393.8C310.8 392.3 309.2 387.7 310 385Z" fill="#0000ff"/>
<ellipse cx="267" cy="475.8" rx="2.8" ry="2.2" fill="#0000ff"/>
<path d="M115 575C116.7 571.7 121.7 567.7 125 565C128.3 562.3 131.5 560.2 135 558.8C138.5 557.3 142.3 555.6 146.2 556.2C150.2 556.9 156.5 560.2 158.8 562.5C161 564.8 160.4 567.1 160 570C159.6 572.9 157.9 576.7 156.2 580C154.6 583.3 152.3 586.7 150 590C147.7 593.3 145 597.1 142.5 600C140 602.9 137.1 606.9 135 607.5C132.9 608.1 131.7 605 130 603.8C128.3 602.5 126.7 601.9 125 600C123.3 598.1 121.7 595 120 592.5C118.3 590 115.8 587.9 115 585C114.2 582.1 113.3 578.3 115 575Z" fill="#0000ff"/>
<path d="M81.2 652.5C80.4 650.8 83.1 642.1 85 637.5C86.9 632.9 89.2 629.2 92.5 625C95.8 620.8 101.2 615.4 105 612.5C108.8 609.6 111.7 609 115 607.5C118.3 606 121.7 603.8 125 603.8C128.3 603.8 133.8 606 135 607.5C136.2 609 135 611.2 132.5 612.5C130 613.8 123.3 613.3 120 615C116.7 616.7 114.6 619.6 112.5 622.5C110.4 625.4 110 629.6 107.5 632.5C105 635.4 100.4 637.5 97.5 640C94.6 642.5 92.7 645.4 90 647.5C87.3 649.6 82.1 654.2 81.2 652.5Z" fill="#0000ff"/>
<path d="M151.6 780.1C153 779 155.6 780 156.7 781C157.8 782 158.7 784.1 158.4 786.1C158.1 788.1 157 790.9 155 792.9C153 794.9 148.8 796.3 146.5 798C144.2 799.7 142.8 801.1 141.4 803.1C140 805.1 139.1 808.1 138 809.9C136.9 811.7 135.7 813.6 134.6 814.1C133.5 814.7 131.5 814.6 131.2 813.3C130.9 812 131.8 808.8 132.9 806.5C134 804.2 136.3 802 138 799.7C139.7 797.4 141.4 794.9 143.1 792.9C144.8 790.9 146.8 789.9 148.2 787.8C149.6 785.7 150.2 781.3 151.6 780.1Z" fill="#0000ff"/>
<path d="M121 835.4C122.1 832.8 125 831.4 127.8 830.3C130.6 829.2 135.2 829.7 138 828.6C140.8 827.5 142.2 825.1 144.8 823.5C147.4 821.9 150.8 820.1 153.3 819.2C155.9 818.4 158.3 817.8 160.1 818.4C161.9 819 163.4 820.7 164.3 822.6C165.3 824.6 166.2 828.2 166.1 830.3C165.9 832.4 165.1 834.4 163.5 835.4C161.9 836.4 158.4 835.4 156.7 836.2C155 837.1 153.6 838.7 153.3 840.5C153 842.3 153.9 845.6 155 847.3C156.1 849 160.7 849.1 160.1 850.7C159.5 852.3 154.4 855 151.6 856.6C148.8 858.3 145.9 859.6 143.1 860.9C140.3 862.2 137.7 863.6 134.6 864.3C131.5 865 127.1 864.9 124.4 865.1C121.7 865.4 120.1 867 118.4 866C116.7 865 114.5 861.8 114.2 859.2C113.9 856.7 115.6 853 116.8 850.7C117.9 848.4 120.3 848.2 121 845.6C121.7 843 119.9 838 121 835.4Z" fill="#0000ff"/>
<path d="M162.6 842.2C163.8 840.9 165.9 840.8 166.9 841.4C167.9 841.9 168.7 844.2 168.6 845.6C168.5 847 167.2 848.9 166.1 849.9C164.9 850.8 162.8 851.7 161.8 851.5C160.8 851.4 160 850.6 160.1 849C160.2 847.4 161.5 843.5 162.6 842.2Z" fill="#0000ff"/>
<path d="M104.8 864.3C105.8 863.9 108.2 864.9 109.1 866C109.9 867.1 109.1 870.2 109.9 871.1C110.8 872 113.8 870 114.2 871.1C114.6 872.2 113.3 875.9 112.5 877.9C111.7 879.9 110.5 881.4 109.1 883C107.7 884.6 105.7 886.5 104 887.2C102.3 888 100.5 888 98.9 887.2C97.3 886.5 94.9 884.6 94.7 883C94.4 881.4 95.9 879.3 97.2 877.9C98.5 876.5 101.3 876.1 102.3 874.5C103.3 872.9 102.7 870.2 103.2 868.5C103.6 866.8 103.9 864.7 104.8 864.3Z" fill="#0000ff"/>
<ellipse cx="383.8" cy="497.5" rx="4.5" ry="4.5" fill="#61b8ff"/>
<ellipse cx="324.2" cy="510" rx="3.2" ry="4.5" fill="#3dba3d" transform="rotate(-20 324.2 510)"/>
<ellipse cx="383.8" cy="497.5" rx="5" ry="4.5" fill="#61b8ff"/>
<ellipse cx="715" cy="403.8" rx="4.2" ry="3.2" fill="#61b8ff"/>
<ellipse cx="636.2" cy="347.5" rx="5.5" ry="5.5" fill="#61b8ff"/>
<ellipse cx="635" cy="347" rx="6" ry="5.6" fill="#61b8ff"/>
<ellipse cx="715" cy="404" rx="4" ry="3.6" fill="#61b8ff"/>
<path d="M343 441C344 438.7 347.8 437.8 350 438C352.2 438.2 354.8 440.3 356.4 442.4C358 444.5 359.5 447.8 359.4 450.4C359.3 453 357.8 456.7 356 458C354.2 459.3 350.4 459.4 348.4 458.4C346.4 457.4 344.9 454.9 344 452C343.1 449.1 342 443.3 343 441Z" fill="#61b8ff"/>
<path d="M385 467C385.8 464.5 389.2 460.8 392.5 457C395.8 453.2 400.8 448.2 405 444.5C409.2 440.8 412.9 437.2 417.5 434.5C422.1 431.8 427.9 430.3 432.5 428.2C437.1 426.2 441.2 424.7 445 422C448.8 419.3 451.2 415.3 455 412C458.8 408.7 463.3 405.8 467.5 402C471.7 398.2 476.7 393.7 480 389.5C483.3 385.3 485.8 381.6 487.5 377C489.2 372.4 489.6 365.7 490 362C490.4 358.3 488.3 357.4 490 355C491.7 352.6 495.8 350 500 347.5C504.2 345 510.8 343.8 515 340C519.2 336.2 521.7 329.6 525 325C528.3 320.4 531.7 316.2 535 312.5C538.3 308.8 541.2 305 545 302.5C548.8 300 552.5 299 557.5 297.5C562.5 296 573.9 294 575 293.8C576.1 293.5 563.5 296.1 564 296C564.5 295.9 573.3 293.7 578 293C582.7 292.3 588 291.8 592 292C596 292.2 599.2 292.8 602 294C604.8 295.2 608.3 297 609 299C609.7 301 607.8 303.5 606 306C604.2 308.5 600.7 311.3 598 314C595.3 316.7 592 319.7 590 322C588 324.3 586 326.3 586 328C586 329.7 587.7 331 590 332C592.3 333 596.7 334.3 600 334C603.3 333.7 606.7 331.3 610 330C613.3 328.7 616.7 327.3 620 326C623.3 324.7 626.8 322.5 630 322C633.2 321.5 636.8 322 639 323C641.2 324 642.8 326.2 643 328C643.2 329.8 641.8 332.3 640 334C638.2 335.7 634.3 336.7 632 338C629.7 339.3 627.2 340 626 342C624.8 344 624.7 347.3 625 350C625.3 352.7 626.7 355.7 628 358C629.3 360.3 632.5 362.2 633 364C633.5 365.8 632.8 368 631 369C629.2 370 625.2 370.2 622 370C618.8 369.8 615 368.7 612 368C609 367.3 606.3 365.7 604 366C601.7 366.3 600 368.3 598 370C596 371.7 594.3 374.3 592 376C589.7 377.7 586.7 378.3 584 380C581.3 381.7 578.7 383.7 576 386C573.3 388.3 570.7 391.3 568 394C565.3 396.7 562.3 399.3 560 402C557.7 404.7 557 408 554 410C551 412 546 412.5 542 414C538 415.5 534.5 417.2 530 419C525.5 420.8 518.3 422.3 515 424.5C511.7 426.7 512.5 429.5 510 432C507.5 434.5 503.3 437.4 500 439.5C496.7 441.6 493.3 442.8 490 444.5C486.7 446.2 483.3 449.1 480 449.5C476.7 449.9 473.3 447.2 470 447C466.7 446.8 462.9 446.6 460 448.2C457.1 449.9 454.8 453.9 452.5 457C450.2 460.1 447.5 463.7 446.2 467C445 470.3 446 474.9 445 477C444 479.1 441.2 480.8 440 479.5C438.8 478.2 438.8 472.4 437.5 469.5C436.2 466.6 434.6 462.8 432.5 462C430.4 461.2 427.5 462.8 425 464.5C422.5 466.2 420 469.9 417.5 472C415 474.1 413.8 476.6 410 477C406.2 477.4 398.8 475.3 395 474.5C391.2 473.7 389.2 473.2 387.5 472C385.8 470.8 384.2 469.5 385 467Z" fill="#ff00ff"/>
<path d="M656 342C656.7 340.2 658.7 338.3 660 339C661.3 339.7 662.3 343.5 664 346C665.7 348.5 667.7 352 670 354C672.3 356 674.7 357.5 678 358C681.3 358.5 686 357 690 357C694 357 698.3 357.2 702 358C705.7 358.8 709.7 360 712 362C714.3 364 716 367.3 716 370C716 372.7 714 375.7 712 378C710 380.3 707 382.5 704 384C701 385.5 697.3 386.3 694 387C690.7 387.7 687 386.8 684 388C681 389.2 678.3 392 676 394C673.7 396 672.7 398.3 670 400C667.3 401.7 663.3 403.5 660 404C656.7 404.5 652.3 404 650 403C647.7 402 646.3 399.8 646 398C645.7 396.2 646.3 393.7 648 392C649.7 390.3 653.7 389.7 656 388C658.3 386.3 661.3 384.7 662 382C662.7 379.3 660.7 375.7 660 372C659.3 368.3 658.7 363.7 658 360C657.3 356.3 656.3 353 656 350C655.7 347 655.3 343.8 656 342Z" fill="#ff00ff"/>
<ellipse cx="626.6" cy="402.6" rx="7.2" ry="4.4" fill="#ff00ff" transform="rotate(-30 626.6 402.6)"/>
<ellipse cx="624.4" cy="382" rx="2.4" ry="2.8" fill="#ff00ff"/>
<ellipse cx="723" cy="418" rx="7" ry="5.2" fill="#ff00ff" transform="rotate(-20 723 418)"/>
<ellipse cx="685" cy="443" rx="4.4" ry="6" fill="#ff00ff" transform="rotate(25 685 443)"/>
<ellipse cx="673" cy="452" rx="1.4" ry="1.2" fill="#ff00ff"/>
<path d="M248.8 580C248.5 576.2 249.4 573.3 251.2 570C253.1 566.7 256.5 563.3 260 560C263.5 556.7 268.3 552.9 272.5 550C276.7 547.1 281.2 544.8 285 542.5C288.8 540.2 291.2 537.1 295 536.2C298.8 535.4 303.3 537.9 307.5 537.5C311.7 537.1 315.8 535.4 320 533.8C324.2 532.1 328.8 530 332.5 527.5C336.2 525 339.2 520.8 342.5 518.8C345.8 516.7 349.2 515.2 352.5 515C355.8 514.8 360.2 515.8 362.5 517.5C364.8 519.2 365.4 522.1 366.2 525C367.1 527.9 368.5 532.1 367.5 535C366.5 537.9 363.3 540.4 360 542.5C356.7 544.6 351.2 546 347.5 547.5C343.8 549 340.4 550 337.5 551.2C334.6 552.5 332.5 552.9 330 555C327.5 557.1 325.8 561.7 322.5 563.8C319.2 565.8 314.6 566.5 310 567.5C305.4 568.5 300 568.8 295 570C290 571.2 284.6 572.9 280 575C275.4 577.1 270.8 579.8 267.5 582.5C264.2 585.2 262.5 589.6 260 591.2C257.5 592.9 254.4 594.4 252.5 592.5C250.6 590.6 249 583.8 248.8 580Z" fill="#ff00ff"/>
<path d="M207.5 555C207.7 551.9 210.2 550.9 212.5 550C214.8 549.1 218.5 548.7 221.2 549.5C224 550.3 227.1 552.8 228.8 555C230.4 557.2 231.9 560.2 231.2 562.5C230.6 564.8 227.3 567.1 225 568.8C222.7 570.4 219.8 572.5 217.5 572.5C215.2 572.5 212.9 571.7 211.2 568.8C209.6 565.8 207.3 558.1 207.5 555Z" fill="#ff00ff"/>
<ellipse cx="340" cy="474.5" rx="5.5" ry="6" fill="#ff00ff"/>
<ellipse cx="387" cy="515" rx="3" ry="2.8" fill="#ff00ff"/>
<ellipse cx="387.5" cy="480.8" rx="2.2" ry="2.2" fill="#ff00ff"/>
<path d="M385 467.5C385.8 464.8 389.6 460.8 392.5 457.5C395.4 454.2 399.2 450.8 402.5 447.5C405.8 444.2 408.8 439.8 412.5 437.5C416.2 435.2 420.4 434.4 425 433.8C429.6 433.1 437.5 427.7 440 433.8C442.5 439.8 444.2 462.7 440 470C435.8 477.3 422.1 476.7 415 477.5C407.9 478.3 402.1 475.6 397.5 475C392.9 474.4 389.6 475 387.5 473.8C385.4 472.5 384.2 470.2 385 467.5Z" fill="#ff00ff"/>
<ellipse cx="387" cy="514.8" rx="3" ry="2.8" fill="#ff00ff"/>
<ellipse cx="387.5" cy="481.5" rx="2.2" ry="2" fill="#ff00ff"/>
<ellipse cx="386.2" cy="717.5" rx="8" ry="6.5" fill="#ff00ff"/>
<path d="M118.8 587.5C118.8 586 121.7 585.2 123.8 585C125.8 584.8 130.2 585.2 131.2 586.2C132.3 587.3 131.2 590 130 591.2C128.8 592.5 125.6 594.4 123.8 593.8C121.9 593.1 118.8 589 118.8 587.5Z" fill="#ff00ff"/>
<path d="M91.2 620C91.9 618.5 94.8 617.5 96.2 617.5C97.7 617.5 99.8 618.8 100 620C100.2 621.2 98.8 624 97.5 625C96.2 626 93.5 627.1 92.5 626.2C91.5 625.4 90.6 621.5 91.2 620Z" fill="#ff00ff"/>
<path d="M126.9 842.2C127.8 840.4 129.1 838.5 131.2 837.1C133.3 835.7 137.1 834.4 139.7 833.7C142.2 833 144.9 832 146.5 832.9C148.1 833.7 148.8 836.4 149.1 838.8C149.3 841.2 149.2 845.2 148.2 847.3C147.2 849.4 145.4 850.3 143.1 851.5C140.8 852.8 137 854.7 134.6 855C132.2 855.2 130.1 854.4 128.7 853.2C127.2 852.1 126.4 850 126.1 848.1C125.8 846.3 126.1 844 126.9 842.2Z" fill="#ff00ff"/>
<path d="M530 338C531.7 336.7 533.7 335.2 536 334C538.3 332.8 541.3 331.3 544 331C546.7 330.7 550.5 331 552 332C553.5 333 553.7 335.3 553 337C552.3 338.7 550.5 340.7 548 342C545.5 343.3 541 344.3 538 345C535 345.7 532 346.5 530 346C528 345.5 526 343.3 526 342C526 340.7 528.3 339.3 530 338Z" fill="#800040"/>
<ellipse cx="387" cy="716.5" rx="2.2" ry="1.8" fill="#800040"/>
</g>
<path d="M435 181.2L432.5 187.5L422.5 192.5L413.8 200L416.2 210L422.5 217.5L425 225L432.5 232.5L440 236.2L450 240L455 250L457.5 262.5L461.2 275L466.2 280L470 290L475 300L482.5 307.5L486.2 317.5L493.8 322.5L495 332.5L493.8 337.5M488.8 293.8L497.5 291.2L507.5 290L512.5 282.5L520 285L522.5 292.5L525 300L530 305L540 310L547.5 317.5L550 325M495 326L494 334L489 339L480 343L472 346L468 354L466 362L468 370L464 376L456 377L448 378L442 382L434 383L426 384L420 388L414 394L408 400L404 405L410 409L418 414L426 418L434 419L440 414L444 409M340 444L344 438L348 430L354 422L362 417L370 414L380 412L390 409L398 406L404 405M392 350L400 347L406 348L408 343L416 343L424 346L434 343L444 338L452 332L456 326L464 322L476 321L484 322L495 326M392 350L390 358L394 366L400 373L406 377L416 380L420 388M340 452L346 460L352 464L354 472L358 478L366 482L374 481L382 484L385 492L392 496L400 495L408 490L414 485L420 488L428 489L436 488L444 487L452 488L457 484L458 476L460 468L458 460M444 409L452 420L449 430L454 438L462 440L468 436L472 428L480 424L488 428L496 424L500 416L508 412M458 460L468 458L480 454L488 448L496 450L504 446L510 438L512 428L508 412L514 400L520 388L516 376L520 364L528 360M454 438L452 448L458 460M222.5 490L230 488.8L237.5 486.2L245 482.5L255 483.8L265 485L272.5 480L280 476.2L286.2 473.8L290 470L300 473.8L307.5 472.5L315 467.5L322.5 460L332.5 455L337.5 447.5L342.5 440L346.2 430L350 426.2M130 605L137.5 610L150 612.5L160 615L170 612.5L180 610L190 611.2L200 610L210 611.2L217.5 617.5L222.5 625L230 632.5L240 637.5L250 640L260 642.5L267.5 650L275 655L285 662.5L295 670L310 675M417.5 602.5L422.5 610L420 622.5L415 632.5L400 637.5L390 642.5L385 652.5L395 660L402.5 670L407.5 680L417.5 687.5L430 690M335 677.5L345 680L350 690L347.5 700L342.5 710L337.5 720L335 735L337.5 745L325 750L322.5 757.5L312.5 760M335 677.5L345 670L355 667.5L367.5 665L380 660L385 652.5M165 772.5L175 777.5L187.5 775L202.5 770L215 765L230 762.5L245 757.5L255 755L270 750L280 745L290 747.5L302.5 750L312.5 760L322.5 765M150 870L165 867.5L180 870L195 865L212.5 862.5L227.5 860L240 855L255 852.5L270 853.8L285 857.5L300 860L315 863.8L330 865L332.5 875L337.5 885L345 890M317.5 767.5L330 772.5L340 770L347.5 777.5L355 787.5L365 800L372.5 805L380 815L390 820L397.5 832.5L402.5 835M548 526L545 534L546 544L552 550L548 558L538 560L529 563L524 572L526 582L528 594L532 606L534 618L524 626L514 630L508 640L498 640L488 634L484 624L478 618L477 610L484 606L480 598L472 590L466 582L468 570L464 560L470 550L468 540L460 536L454 530L442 512M548 558L556 560L564 566L572 574L580 582L588 588L594 592L590 600L584 608L586 618L594 620L598 628L606 630L619.6 628M529 563L532 582L540 598L544 608L546 612L560 612L570 610L572 620L578 622L586 618M442 512L446 504L454 499L464 500L470 506L480 508L486 504L490 496L496 490L504 484L514 482L524 480L532 476L540 478L548 486L552 496L548 506L550 516L548 526M582.5 480L592.5 487.5L600 495L610 507.5L607.5 517.5L617.5 522.5L630 525L632.5 512.5L645 500L657.5 490L665 485L680 483.8L692.5 487.5L690 497.5L686.2 510L683.8 522.5M610 507.5L600 520L595 532.5L600 545L602.5 560L600 575L605 585L610 592.5L620 590L630 580L640 575L637.5 565L635 550L645 542.5L655 537.5L665 535L667.5 525L675 522.5M635 550L625 537.5L617.5 522.5M635 580L635 607.5L641.2 607.5M582.5 600L585 612.5L595 622.5L597.5 630L607.5 628.8L620 625L630 622.5L641.2 622.5M735 365L740 368.8L750 373.8L762.5 372.5L772.5 370L780 372.5L778.8 382.5L783.8 390L795 392.5L805 396.2L815 400L822.5 402.5L832.5 407.5M791.2 372.5L797.5 365L807.5 360L820 356.2L832.5 353.8L845 347.5L850 342.5M600 413.8L610 410L622.5 407.5L635 405L650 407.5L655 415L665 417.5L672.5 425L675 432.5L665 432.5L650 430L640 432.5L635 440L637.5 450L645 460L650 470L657.5 475L655 485M600 340L610 341.2L620 340L630 337.5L635 336.2L640 330L650 325L660 320M815 400L820 412.5L825 425L820 440L815 450L812.5 462.5L817.5 475L825 485L837.5 490L842.5 497.5L850 502.5M657.5 475L670 485L682.5 486.2L692.5 490L687.5 500L685 512.5L682.5 525L695 522.5L705 525L710 532.5L717.5 536.2M735 365L725 372.5L715 380L705 385L695 386.2L685 390L675 392.5L665 395L655 400L650 407.5M792.5 370L800 362.5L812.5 357.5L825 355L835 352.5L845 347.5L855 345L865 345L870 342.5M782.5 375L780 385L785 390L795 392.5L807.5 397.5L815 400L822.5 402.5L832.5 407.5L833.8 417.5L827.5 425L825 435L822.5 445L817.5 455L812.5 462M827.5 422.5L823.8 435L820 447.5L812.5 457.5L811.2 467.5L817.5 475L825 482.5L827.5 490L840 492.5L845 500L852.5 502.5L862.5 502.5L872.5 505L880 503.8M400 660L405 672.5L412.5 682.5L422.5 687.5L432.5 690L431.2 700L435 710L440 717.5L450 715L462.5 711.2L472.5 706.2L487.5 705L502.5 706.2L503.8 712.5L497.5 722.5L490 732.5L482.5 742.5L475 752.5L472.5 767.5" fill="none" stroke="#8c8c8c" stroke-width="1.1" stroke-linejoin="round"/>
<path d="M122.5 276.2L130 272.5L137.5 266.2L146.2 262.5L145 256.2L137.5 250L136.2 242.5L128.8 233.8L128.8 228.8L137.5 223.8L147.5 218.8L162.5 217L177.5 217.5L180 210L177.5 197.5L175 182.5L180 172.5L188.8 165L195 158L205 157L212.5 152.5L212.5 141.2L220 133.8L230 130.5L240 133L250 132L257.5 126.2L265 132.5L265 140L270 146.2L272.5 152.5L275 162.5L278.8 173.8L272.5 180L271.2 192.5L267.5 202.5L280 205L290 202L300 201.2L312.5 207.5L325 206.2L335 202.5L330 193.8L340 188.8L350 185L365 177.5L380 170L392.5 163.8L400 160L412.5 157.5L417.5 165L425 175L427.5 180L435 181.2L440 177.5L440 171.2L450 166.2L457.5 157.5L467.5 152.5L472.5 148.8L480 150L483.8 156.2L490 156.2L495 152.5L500 157.5L505 160L520 158.8L527.5 153.8L535 150L537.5 150L546.2 147.5L547.5 137.5L543.8 130L536.2 123.8L535 121.2L550 122.5L552.5 115L550 105L548.8 98.8L557.5 92.5L572.5 85L585 83.8L600 84.5L617.5 85L622.5 77.5L620 75L625 68.8L640 65L650 68.8L660 67.5L675 63.8L677.5 67.5L685 77.5L697.5 90L707.5 100L712.5 108.8L705 115L707.5 120L717.5 127.5L720 135L722.5 135L727.5 143.8L735 137.5L741.2 137.5L745 145L743.8 152.5L747.5 160L751.2 168.8L746.2 180L740 182.5L735 178.8L727.5 177.5L723.8 182.5L727.5 195L735 205L743.8 212.5L746.2 222.5L751.2 230L755 240L760 243.8L765 242.5L782.5 240L795 242.5L810 241.2L820 237.5L825 243.8L835 246.2L850 247.5L865 248.8L876.2 246.2L878.8 252.5L872.5 257.5L867.5 261.2L865 267.5L857.5 271.2L853.8 277.5L845 280L837.5 282.5L836.2 286.2L846.2 290L842.5 295L832.5 296.2L827.5 302.5L825 310L822.5 316.2L832.5 323.8L842.5 332.5L855 340L862.5 337.5L867.5 333.8L870 338.8L866.2 343.8L875 346.2L880 352.5L897.5 353.8L912.5 352.5L922.5 352.5L923.8 362.5L928.8 366.2L927.5 375L930 382.5L935 390L932.5 397.5L942.5 398.8L948.8 403.8L950 412.5L952.5 420L962.5 423.8L960 432.5L950 436.2L950 436.2L935 438.8L922.5 443.8L915 452.5L905 458.8L895 467.5L887.5 480L883.8 490L882.5 500L886.2 505L885 511.2L878.8 515L872.5 516.2L862.5 525L852.5 532.5L840 538.8L830 542.5L822.5 545L810 546.2L801.2 546.2L800 541.2L787.5 542.5L780 547.5L765 556.2L752.5 563.8L742.5 560L732.5 550L725 541.2L715 536.2L712.5 536.2L700 535L687.5 538.8L677.5 545L670 552.5L667.5 560L671.2 567.5L670 573.8L662.5 577.5L655 586.2L647.5 597.5L643.8 607.5L641.2 617.5L642.5 623.8L650 635L660 647.5L670 658.8L677.5 666.2L675 672.5L672.5 682.5L665 691.2L652.5 696.2L645 702.5L643.8 698.8L637.5 710L632.5 721.2L627.5 727.5L617.5 730L600 729.5L575 730L550 730L536.2 730L530 737.5L525 745L515 755L505 765L495 772.5L486.2 781.2L480 775L472.5 767.5L466.2 772.5L465 777.5L458.8 782.5L461.2 788.8L463.8 792.5L455 795L450 795L437.5 798.8L425 803.8L415 815L410 826.2L405 837.5L397.5 846.2L390 856.2L382.5 867.5L370 873.8L355 880L347.5 887.5L340 895L332.5 905L330 915L327.5 925L335 935L336.2 942.5L345 941.2L352.5 952.5L352.5 965L345 967.5L337.5 973.8L328.8 972.5L322.5 962.5L315 957.5L300 958.8L293.8 967.5L287.5 975L275 978.8L272.5 972.5L271.2 967.5L257.5 966.2L242.5 967.5L225 968.8L212.5 960L200 955L185 950L170 947.5L157.5 946.2L150 938.8L140 940L125 938.8L112.5 935L105 927.5L95 922.5L85 917.5L83.8 910L80 902.5L75 895L72.5 887.5L77.5 883.8L90 881.2L97.5 876.2L102.5 865L112.5 860L115 852.5L113.8 845L115 835L113.8 827.5L122.5 820L130 810L140 795L150 782.5L160 770L165 760L165 762L160 752.5L146.2 746.2L150 740L142.5 730L135 717.5L127.5 702.5L120 690L110 680L97.5 672.5L85 665L80 655L83.8 646.2L85 635L90 625L97.5 622.5L92.5 617.5L105 610L112.5 607.5L122.5 600L128.8 590L118.8 585L115 572.5L125 565L137.5 558.8L151.2 550L160 558.8L172.5 558.8L185 553.8L195 550L196.2 545L210 541.2L207.5 532.5L206.2 527.5L210 520L215 510L220 500L223.8 492.5L221.2 486.2L210 482.5L203.8 477.5L203.8 465L202.5 455L200 447.5L187.5 446.2L177.5 447.5L172.5 441.2L160 440L152.5 437.5L147.5 430L135 426.2L143.8 422.5L146.2 411.2L153.8 417.5L157.5 412.5L155 403.8L170 402.5L182.5 396.2L195 393.8L207.5 392.5L217.5 387.5L220 382.5L212.5 378.8L200 377.5L190 376.2L186.2 367.5L186.2 355L182.5 345L175 335L170 330L162.5 320L155 310L150 300L143.8 290L132.5 282.5Z" fill="none" stroke="#8c8c5a" stroke-width="1.6" stroke-linejoin="round"/>
<text class="s" x="212.5 220.5 230.1 236.5" y="184" font-size="16" fill="#0b1536">26.7</text>
<text class="s" x="361.3 369.3 378.9 385.3" y="210" font-size="16" fill="#0b1536">41.0</text>
<text class="s" x="228.8 236.8 246.4 252.8" y="281.3" font-size="16" fill="#0b1536">25.8</text>
<text class="s" x="128.8 136.8 146.4 152.8" y="289" font-size="16" fill="#0b1536">57.1</text>
<text class="s" x="310 318 327.6 334" y="309.5" font-size="16" fill="#0b1536">76.2</text>
<text class="s" x="386.3 394.3 403.9 410.3" y="319" font-size="16" fill="#0b1536">38.8</text>
<text class="s" x="233.8 241.8 251.4 257.8" y="335.5" font-size="16" fill="#0b1536">38.6</text>
<text class="s" x="260 268 277.6 284" y="335.5" font-size="16" fill="#0b1536">19.0</text>
<text class="s" x="185 193 202.6 209" y="347.8" font-size="16" fill="#0b1536">35.3</text>
<text class="s" x="276.3 284.3 293.9 300.3" y="364" font-size="16" fill="#0b1536">34.4</text>
<text class="s" x="428.8 436.8 446.4 452.8" y="359" font-size="16" fill="#0b1536">25.7</text>
<text class="s" x="406.3 414.3 423.9 430.3" y="379.3" font-size="16" fill="#0b1536">21.6</text>
<text class="s" x="301.3 309.3 318.9 325.3" y="389" font-size="16" fill="#0b1536">36.8</text>
<text class="s" x="342.5 350.5 360.1 366.5" y="383.5" font-size="16" fill="#0b1536">42.7</text>
<text class="s" x="440.5 448.5 458.1 464.5" y="411.8" font-size="16" fill="#0b1536">26.9</text>
<text class="s" x="153 161 170.6 177" y="429" font-size="16" fill="#0b1536">17.6</text>
<text class="s" x="368.8 376.8 386.4 392.8" y="445" font-size="16" fill="#0b1536">49.0</text>
<text class="s" x="210.8 218.8 228.4 234.8" y="466" font-size="16" fill="#0b1536">29.1</text>
<text class="s" x="370 378 386 395.6 402" y="479.3" font-size="16" fill="#0b1536">116.7</text>
<text class="s" x="415.5 423.5 433.1 439.5" y="514.5" font-size="16" fill="#0b1536">74.7</text>
<text class="s" x="656.3 664.3 673.9 680.3" y="167.5" font-size="16" fill="#0b1536">53.1</text>
<text class="s" x="651.3 659.3 668.9 675.3" y="258.8" font-size="16" fill="#0b1536">47.8</text>
<text class="s" x="498.8 506.8 516.4 522.8" y="275" font-size="16" fill="#0b1536">49.0</text>
<text class="s" x="677.5 685.5 695.1 701.5" y="308" font-size="16" fill="#0b1536">37.1</text>
<text class="s" x="597.5 605.5 615.1 621.5" y="311" font-size="16" fill="#0b1536">92.7</text>
<text class="s" x="781.3 789.3 798.9 805.3" y="302.5" font-size="16" fill="#0b1536">13.0</text>
<text class="s" x="717.8 725.8 735.4 741.8" y="333.8" font-size="16" fill="#0b1536">31.7</text>
<text class="s" x="755 763 772.6 779" y="356.3" font-size="16" fill="#0b1536">26.8</text>
<text class="s" x="821.3 829.3 838.9 845.3" y="383.8" font-size="16" fill="#0b1536">38.6</text>
<text class="s" x="787.5 795.5 805.1 811.5" y="438.8" font-size="16" fill="#0b1536">35.0</text>
<text class="s" x="816.3 825.9 832.3" y="458.8" font-size="16" fill="#0b1536">1.4</text>
<text class="s" x="863.8 873.4 879.8" y="456.3" font-size="16" fill="#0b1536">2.5</text>
<text class="s" x="905 914.6 921" y="461.8" font-size="16" fill="#0b1536">2.6</text>
<text class="s" x="736.3 744.3 753.9 760.3" y="418.8" font-size="16" fill="#0b1536">70.6</text>
<text class="s" x="861.3 870.9 877.3" y="479.5" font-size="16" fill="#0b1536">1.3</text>
<text class="s" x="792.5 802.1 808.5" y="479.5" font-size="16" fill="#0b1536">0.7</text>
<text class="s" x="700 708 717.6 724" y="468.8" font-size="16" fill="#0b1536">14.2</text>
<text class="s" x="706.3 715.9 722.3" y="490.5" font-size="16" fill="#0b1536">0.2</text>
<text class="s" x="706.3 715.9 722.3" y="500" font-size="16" fill="#0b1536">7.3</text>
<text class="s" x="779.5 789.1 795.5" y="511.3" font-size="16" fill="#0b1536">2.5</text>
<text class="s" x="613.8 621.8 631.4 637.8" y="386.3" font-size="16" fill="#0b1536">90.9</text>
<text class="s" x="681.3 689.3 698.9 705.3" y="414.5" font-size="16" fill="#0b1536">64.1</text>
<text class="s" x="611.3 619.3 627.3 636.9 643.3" y="422.5" font-size="16" fill="#0b1536">119.5</text>
<text class="s" x="613.8 621.8 631.4 637.8" y="435" font-size="16" fill="#0b1536">75.6</text>
<text class="s" x="647.8 655.8 663.8 673.4 679.8" y="458.5" font-size="16" fill="#0b1536">101.2</text>
<text class="s" x="590 598 607.6 614" y="479" font-size="16" fill="#0b1536">43.4</text>
<text class="s" x="667.5 677.1 683.5" y="532.5" font-size="16" fill="#0b1536">0.2</text>
<text class="s" x="513.8 521.8 531.4 537.8" y="463" font-size="16" fill="#0b1536">45.7</text>
<text class="s" x="548.8 556.8 566.4 572.8" y="484" font-size="16" fill="#0b1536">52.3</text>
<text class="s" x="507.5 515.5 525.1 531.5" y="510.5" font-size="16" fill="#0b1536">26.8</text>
<text class="s" x="561.5 571.1 577.5" y="521" font-size="16" fill="#0b1536">0.6</text>
<text class="s" x="575 584.6 591" y="548.8" font-size="16" fill="#0b1536">3.8</text>
<text class="s" x="561 570.6 577" y="569" font-size="16" fill="#0b1536">3.0</text>
<text class="s" x="449.8 457.8 467.4 473.8" y="523.5" font-size="16" fill="#0b1536">37.4</text>
<text class="s" x="403.8 411.8 421.4 427.8" y="537.8" font-size="16" fill="#0b1536">69.4</text>
<text class="s" x="477.3 485.3 494.9 501.3" y="539.3" font-size="16" fill="#0b1536">15.8</text>
<text class="s" x="468.8 478.4 484.8" y="557.3" font-size="16" fill="#0b1536">3.8</text>
<text class="s" x="427.5 435.5 445.1 451.5" y="579.5" font-size="16" fill="#0b1536">11.3</text>
<text class="s" x="478.3 487.9 494.3" y="602.5" font-size="16" fill="#0b1536">1.5</text>
<text class="s" x="428.8 438.4 444.8" y="618.3" font-size="16" fill="#0b1536">2.7</text>
<text class="s" x="422.5 432.1 438.5" y="662" font-size="16" fill="#0b1536">1.8</text>
<text class="s" x="338.8 346.8 354.8 364.4 370.8" y="535.3" font-size="16" fill="#0b1536">181.7</text>
<text class="s" x="385 393 402.6 409" y="573" font-size="16" fill="#0b1536">51.0</text>
<text class="s" x="361.3 369.3 378.9 385.3" y="584" font-size="16" fill="#0b1536">18.6</text>
<text class="s" x="401.3 409.3 418.9 425.3" y="590.5" font-size="16" fill="#0b1536">76.3</text>
<text class="s" x="338.8 346.8 356.4 362.8" y="618" font-size="16" fill="#0b1536">70.4</text>
<text class="s" x="379.8 387.8 397.4 403.8" y="621.8" font-size="16" fill="#0b1536">15.8</text>
<text class="s" x="495.5 503.5 511.5 521.1 527.5" y="390.8" font-size="16" fill="#0b1536">149.0</text>
<text class="s" x="527 535 543 552.6 559" y="390.8" font-size="16" fill="#0b1536">152.0</text>
<text class="s" x="497.5 505.5 515.1 521.5" y="423.3" font-size="16" fill="#0b1536">97.1</text>
<text class="s" x="565.5 573.5 583.1 589.5" y="418.3" font-size="16" fill="#0b1536">42.2</text>
<text class="s" x="562.5 570.5 580.1 586.5" y="445.8" font-size="16" fill="#0b1536">49.3</text>
<text class="s" x="542.5 550.5 560.1 566.5" y="453.3" font-size="16" fill="#0b1536">57.2</text>
<text class="s" x="472.5 480.5 488.5 498.1 504.5" y="469.5" font-size="16" fill="#0b1536">104.1</text>
<text class="s" x="435 443 451 460.6 467" y="473.3" font-size="16" fill="#0b1536">103.0</text>
<text class="s" x="458.8 466.8 476.4 482.8" y="480.8" font-size="16" fill="#0b1536">73.6</text>
<text class="s" x="436 444 452 461.6 468" y="445.8" font-size="16" fill="#0b1536">107.4</text>
<text class="s" x="470 478 486 495.6 502" y="447" font-size="16" fill="#0b1536">142.3</text>
<text class="s" x="428.8 436.8 444.8 454.4 460.8" y="455.8" font-size="16" fill="#0b1536">116.8</text>
<text class="s" x="226.3 234.3 243.9 250.3" y="530.5" font-size="16" fill="#0b1536">63.7</text>
<text class="s" x="292.5 300.5 310.1 316.5" y="593.8" font-size="16" fill="#0b1536">31.6</text>
<text class="s" x="315 323 332.6 339" y="590.5" font-size="16" fill="#0b1536">62.6</text>
<text class="s" x="268.8 276.8 286.4 292.8" y="617.5" font-size="16" fill="#0b1536">79.6</text>
<text class="s" x="286.5 294.5 304.1 310.5" y="622.5" font-size="16" fill="#0b1536">29.9</text>
<text class="s" x="226.3 234.3 243.9 250.3" y="632" font-size="16" fill="#0b1536">38.9</text>
<text class="s" x="273.8 281.8 291.4 297.8" y="645.3" font-size="16" fill="#0b1536">10.0</text>
<text class="s" x="207.8 215.8 225.4 231.8" y="662.3" font-size="16" fill="#0b1536">41.9</text>
<text class="s" x="317.3 325.3 334.9 341.3" y="662.3" font-size="16" fill="#0b1536">26.2</text>
<text class="s" x="351 359 368.6 375" y="652.8" font-size="16" fill="#0b1536">11.2</text>
<text class="s" x="385.5 393.5 403.1 409.5" y="662" font-size="16" fill="#0b1536">10.6</text>
<text class="s" x="227.3 235.3 244.9 251.3" y="672.5" font-size="16" fill="#0b1536">18.2</text>
<text class="s" x="184.5 192.5 202.1 208.5" y="678.8" font-size="16" fill="#0b1536">65.4</text>
<text class="s" x="156.3 164.3 173.9 180.3" y="602.5" font-size="16" fill="#0b1536">50.6</text>
<text class="s" x="162.5 170.5 180.1 186.5" y="683.8" font-size="16" fill="#0b1536">15.2</text>
<text class="s" x="264.5 272.5 282.1 288.5" y="695.5" font-size="16" fill="#0b1536">12.8</text>
<text class="s" x="296.3 304.3 313.9 320.3" y="695.5" font-size="16" fill="#0b1536">11.1</text>
<text class="s" x="150 158 167.6 174" y="716.3" font-size="16" fill="#0b1536">13.3</text>
<text class="s" x="181.3 189.3 198.9 205.3" y="711.3" font-size="16" fill="#0b1536">29.3</text>
<text class="s" x="207.5 215.5 225.1 231.5" y="702.5" font-size="16" fill="#0b1536">34.6</text>
<text class="s" x="248 256 265.6 272" y="716.3" font-size="16" fill="#0b1536">11.5</text>
<text class="s" x="280 288 297.6 304" y="718.8" font-size="16" fill="#0b1536">18.5</text>
<text class="s" x="299.8 307.8 317.4 323.8" y="730.3" font-size="16" fill="#0b1536">14.4</text>
<text class="s" x="219.5 227.5 237.1 243.5" y="737.5" font-size="16" fill="#0b1536">32.7</text>
<text class="s" x="205.3 214.9 221.3" y="747.5" font-size="16" fill="#0b1536">8.7</text>
<text class="s" x="244.5 254.1 260.5" y="755.3" font-size="16" fill="#0b1536">9.4</text>
<text class="s" x="356.3 365.9 372.3" y="688.5" font-size="16" fill="#0b1536">4.6</text>
<text class="s" x="378.8 388.4 394.8" y="688" font-size="16" fill="#0b1536">9.4</text>
<text class="s" x="437.5 447.1 453.5" y="692" font-size="16" fill="#0b1536">0.5</text>
<text class="s" x="490.3 499.9 506.3" y="709.5" font-size="16" fill="#0b1536">2.1</text>
<text class="s" x="437.5 447.1 453.5" y="738.8" font-size="16" fill="#0b1536">5.5</text>
<text class="s" x="489.8 499.4 505.8" y="737" font-size="16" fill="#0b1536">0.2</text>
<text class="s" x="373.8 383.4 389.8" y="758" font-size="16" fill="#0b1536">1.0</text>
<text class="s" x="454.5 464.1 470.5" y="762.3" font-size="16" fill="#0b1536">1.9</text>
<text class="s" x="187.5 195.5 205.1 211.5" y="769" font-size="16" fill="#0b1536">21.5</text>
<text class="s" x="216.5 224.5 234.1 240.5" y="771.3" font-size="16" fill="#0b1536">11.8</text>
<text class="s" x="256.3 264.3 273.9 280.3" y="774.5" font-size="16" fill="#0b1536">14.3</text>
<text class="s" x="228.8 238.4 244.8" y="788.3" font-size="16" fill="#0b1536">7.0</text>
<text class="s" x="312.5 322.1 328.5" y="789.5" font-size="16" fill="#0b1536">5.5</text>
<text class="s" x="353.8 363.4 369.8" y="788.5" font-size="16" fill="#0b1536">1.7</text>
<text class="s" x="377.5 387.1 393.5" y="790" font-size="16" fill="#0b1536">3.2</text>
<text class="s" x="198.8 206.8 216.4 222.8" y="797.5" font-size="16" fill="#0b1536">15.2</text>
<text class="s" x="324.5 332.5 342.1 348.5" y="809.5" font-size="16" fill="#0b1536">21.2</text>
<text class="s" x="412 421.6 428" y="811.3" font-size="16" fill="#0b1536">0.1</text>
<text class="s" x="185.5 193.5 203.1 209.5" y="819.5" font-size="16" fill="#0b1536">22.1</text>
<text class="s" x="275 284.6 291" y="827.8" font-size="16" fill="#0b1536">1.9</text>
<text class="s" x="181.3 189.3 198.9 205.3" y="836" font-size="16" fill="#0b1536">19.3</text>
<text class="s" x="232.3 241.9 248.3" y="841.5" font-size="16" fill="#0b1536">2.7</text>
<text class="s" x="279.5 289.1 295.5" y="851.5" font-size="16" fill="#0b1536">0.1</text>
<text class="s" x="299 308.6 315" y="851.5" font-size="16" fill="#0b1536">6.7</text>
<text class="s" x="226.3 234.3 243.9 250.3" y="858.8" font-size="16" fill="#0b1536">24.7</text>
<text class="s" x="306.3 314.3 323.9 330.3" y="860" font-size="16" fill="#0b1536">12.9</text>
<text class="s" x="257 266.6 273" y="871.3" font-size="16" fill="#0b1536">0.7</text>
<text class="s" x="200.3 209.9 216.3" y="878.8" font-size="16" fill="#0b1536">2.6</text>
<text class="s" x="276.3 285.9 292.3" y="889" font-size="16" fill="#0b1536">0.6</text>
<text class="s" x="303.8 313.4 319.8" y="886.3" font-size="16" fill="#0b1536">3.4</text>
<text class="s" x="150 159.6 166" y="906" font-size="16" fill="#0b1536">1.3</text>
<text class="s" x="88.8 98.4 104.8" y="920.5" font-size="16" fill="#0b1536">2.1</text>
<text class="s" x="201.3 210.9 217.3" y="913.8" font-size="16" fill="#0b1536">9.6</text>
<text class="s" x="247 256.6 263" y="923.8" font-size="16" fill="#0b1536">0.1</text>
<text class="s" x="314.5 324.1 330.5" y="923.8" font-size="16" fill="#0b1536">0.1</text>
<text class="s" x="163.8 173.4 179.8" y="944.5" font-size="16" fill="#0b1536">0.3</text>
<text class="s" x="183.8 193.4 199.8" y="944.5" font-size="16" fill="#0b1536">7.2</text>
<text class="s" x="225.5 235.1 241.5" y="938" font-size="16" fill="#0b1536">0.1</text>
<text class="s" x="221.3 230.9 237.3" y="953.8" font-size="16" fill="#0b1536">0.4</text>
<text class="s" x="301.3 310.9 317.3" y="957.5" font-size="16" fill="#0b1536">1.2</text>
<text class="s" x="530 538 546 555.6 562" y="351" font-size="16" fill="#0b1536">343.6</text>
<text class="s" x="567.5 575.5 583.5 593.1 599.5" y="351" font-size="16" fill="#0b1536">117.2</text>
<text class="s" x="498.8 506.8 516.4 522.8" y="340" font-size="16" fill="#0b1536">67.8</text>
<text class="s" x="201 210.6 217" y="899" font-size="16" fill="#0b1536">6.4</text>
<text class="s" x="366 374 382 391.6 398" y="731" font-size="16" fill="#0b1536">408.7</text>
<text class="g" x="252.5 272.8 293.1 313.4" y="303.5" font-size="21" fill="#000">张家口市</text>
<text class="g" x="613.5 633.8 654.1" y="237" font-size="21" fill="#000">承德市</text>
<text class="g" x="451 471.3 491.6" y="439" font-size="21" fill="#000">北京市</text>
<text class="g" x="835 855.3 875.6 895.9" y="417.5" font-size="21" fill="#000">秦皇岛市</text>
<text class="g" x="726 746.3 766.6" y="468.5" font-size="21" fill="#000">唐山市</text>
<text class="g" x="484 504.3 524.6" y="527.5" font-size="21" fill="#000">廊坊市</text>
<text class="g" x="562 582.3 602.6" y="544.5" font-size="21" fill="#000">天津市</text>
<text class="g" x="281 301.3 321.6" y="560.5" font-size="21" fill="#000">保定市</text>
<text class="g" x="504 524.3 544.6" y="667" font-size="21" fill="#000">沧州市</text>
<text class="g" x="180 200.3 220.6 240.9" y="695" font-size="21" fill="#000">石家庄市</text>
<text class="g" x="370 390.3 410.6" y="735.5" font-size="21" fill="#000">衡水市</text>
<text class="g" x="230 250.3 270.6" y="813.5" font-size="21" fill="#000">邢台市</text>
<text class="g" x="194 214.3 234.6" y="905" font-size="21" fill="#000">邯郸市</text>
<text class="g" x="520 535.3 550.6 565.9" y="337" font-size="15.5" fill="#1a0a1a">西白莲峪</text>
<path d="M515 351.5L529 351.5L522 340.5Z" fill="#000"/>
<text class="g" x="586 601.6 617.2 632.8 648.4" y="405" font-size="15.5" fill="#1a0a1a">蓟县罗庄子</text>
<path d="M589 421.5L603 421.5L596 410.5Z" fill="#000"/>
<text class="g" x="345.5 361.5 377.5 393.5 409.5" y="719.5" font-size="15.5" fill="#111">衡水农科院</text>
<path d="M351 735L365 735L358 724Z" fill="#000"/>
<text class="g" x="75.5 107.7 139.9 172.1 204.3 236.5 268.7 300.9 333.1" y="49" font-size="33" font-weight="500" fill="#e60012">京津冀累计降水量图</text>
<text class="s" x="50 62.2" y="80.5" font-size="25" fill="#10131f">15</text>
<text class="s" x="99 111.2" y="80.5" font-size="25" fill="#10131f">20</text>
<text class="s" x="148 160.2" y="80.5" font-size="25" fill="#10131f">00</text>
<text class="c" x="74.5" y="81" font-size="25" fill="#10131f">日</text>
<text class="c" x="123.5" y="81" font-size="25" fill="#10131f">时</text>
<text class="c" x="172.5" y="81" font-size="25" fill="#10131f">分</text>
<text class="s" x="215.2" y="80.5" font-size="25" fill="#10131f">-</text>
<text class="s" x="241.5 253.9" y="80.5" font-size="25" fill="#10131f">17</text>
<text class="s" x="291 303.4" y="80.5" font-size="25" fill="#10131f">11</text>
<text class="s" x="340.5 352.9" y="80.5" font-size="25" fill="#10131f">35</text>
<text class="c" x="266.3" y="81" font-size="25" fill="#10131f">日</text>
<text class="c" x="315.8" y="81" font-size="25" fill="#10131f">时</text>
<text class="c" x="365.3" y="81" font-size="25" fill="#10131f">分</text>
<text class="c" x="106 129 152 175 198 221 244 267 290 313" y="110.5" font-size="21.5" fill="#1a1a1a">北京市气象信息中心制</text>
<rect x="646.5" y="793" width="243" height="208" fill="#fff" stroke="#000" stroke-width="1.2"/>
<text class="s" x="693.7 705.1" y="824" font-size="22.5" fill="#111">10</text>
<text class="s" x="716.8" y="824" font-size="22.5" fill="#111" textLength="10.8" lengthAdjust="spacingAndGlyphs">m</text>
<text class="s" x="728.2" y="824" font-size="22.5" fill="#111" textLength="10.8" lengthAdjust="spacingAndGlyphs">m</text>
<text class="s" x="787.4 796.3 807.7 819.1 830.5" y="824" font-size="22.5" fill="#111">:1924</text>
<text class="c" x="659.5" y="824" font-size="22.5" fill="#111">≥</text>
<text class="c" x="739.3 762.1" y="824" font-size="22.5" fill="#111">站数</text>
<text class="s" x="693.7 705.1" y="847" font-size="22.5" fill="#111">25</text>
<text class="s" x="716.8" y="847" font-size="22.5" fill="#111" textLength="10.8" lengthAdjust="spacingAndGlyphs">m</text>
<text class="s" x="728.2" y="847" font-size="22.5" fill="#111" textLength="10.8" lengthAdjust="spacingAndGlyphs">m</text>
<text class="s" x="787.4 796.3 807.7 819.1 830.5" y="847" font-size="22.5" fill="#111">:1460</text>
<text class="c" x="659.5" y="847" font-size="22.5" fill="#111">≥</text>
<text class="c" x="739.3 762.1" y="847" font-size="22.5" fill="#111">站数</text>
<text class="s" x="693.7 705.1" y="869.5" font-size="22.5" fill="#111">50</text>
<text class="s" x="716.8" y="869.5" font-size="22.5" fill="#111" textLength="10.8" lengthAdjust="spacingAndGlyphs">m</text>
<text class="s" x="728.2" y="869.5" font-size="22.5" fill="#111" textLength="10.8" lengthAdjust="spacingAndGlyphs">m</text>
<text class="s" x="787.4 796.3 807.7 819.1" y="869.5" font-size="22.5" fill="#111">:755</text>
<text class="c" x="659.5" y="869.5" font-size="22.5" fill="#111">≥</text>
<text class="c" x="739.3 762.1" y="869.5" font-size="22.5" fill="#111">站数</text>
<text class="s" x="682.3 693.7 705.1" y="892.5" font-size="22.5" fill="#111">100</text>
<text class="s" x="716.8" y="892.5" font-size="22.5" fill="#111" textLength="10.8" lengthAdjust="spacingAndGlyphs">m</text>
<text class="s" x="728.2" y="892.5" font-size="22.5" fill="#111" textLength="10.8" lengthAdjust="spacingAndGlyphs">m</text>
<text class="s" x="787.4 796.3 807.7 819.1" y="892.5" font-size="22.5" fill="#111">:251</text>
<text class="c" x="659.5" y="892.5" font-size="22.5" fill="#111">≥</text>
<text class="c" x="739.3 762.1" y="892.5" font-size="22.5" fill="#111">站数</text>
<text class="s" x="658.6 670 681.4 692.8 704.2" y="916.5" font-size="22.5" fill="#111">-----</text>
<text class="s" x="784 795.4 806.8 818.2 829.6" y="916.5" font-size="22.5" fill="#111">-----</text>
<text class="c" x="714.5 737.3 760.1" y="916.5" font-size="22.5" fill="#111">最大值</text>
<text class="s" x="809.2 818.1 829.5 840.9 854.8 863.7" y="942" font-size="22.5" fill="#111">:408.7</text>
<text class="c" x="658.5 681.3 704.1" y="942" font-size="22.5" fill="#111">河北省</text>
<text class="c" x="738.3 761.1 783.9" y="942" font-size="22.5" fill="#111">衡水…</text>
<text class="s" x="809.2 818.1 829.5 840.9 854.8 863.7" y="964.5" font-size="22.5" fill="#111">:343.6</text>
<text class="c" x="658.5 681.3 704.1" y="964.5" font-size="22.5" fill="#111">北京市</text>
<text class="c" x="738.3 761.1 783.9" y="964.5" font-size="22.5" fill="#111">西白…</text>
<text class="s" x="809.2 818.1 829.5 840.9 854.8 863.7" y="986.5" font-size="22.5" fill="#111">:119.5</text>
<text class="c" x="658.5 681.3 704.1" y="986.5" font-size="22.5" fill="#111">天津市</text>
<text class="c" x="738.3 761.1 783.9" y="986.5" font-size="22.5" fill="#111">蓟县…</text>
<rect x="939.5" y="475.5" width="26.3" height="83.4" fill="#800040" stroke="#111" stroke-width="1"/>
<rect x="939.5" y="558.9" width="26.3" height="83.4" fill="#ff00ff" stroke="#111" stroke-width="1"/>
<rect x="939.5" y="642.3" width="26.3" height="83.4" fill="#0000ff" stroke="#111" stroke-width="1"/>
<rect x="939.5" y="725.7" width="26.3" height="83.4" fill="#61b8ff" stroke="#111" stroke-width="1"/>
<rect x="939.5" y="809.1" width="26.3" height="83.4" fill="#3dba3d" stroke="#111" stroke-width="1"/>
<rect x="939.5" y="892.5" width="26.3" height="83.4" fill="#a6f28f" stroke="#111" stroke-width="1"/>
<text class="s" x="968.5 976.5 984.5" y="564.4" font-size="16" fill="#111">250</text>
<text class="s" x="968.5 976.5 984.5" y="647.8" font-size="16" fill="#111">100</text>
<text class="s" x="968.5 976.5" y="731.2" font-size="16" fill="#111">50</text>
<text class="s" x="968.5 976.5" y="814.6" font-size="16" fill="#111">25</text>
<text class="s" x="968.5 976.5" y="898" font-size="16" fill="#111">10</text>
<text class="s" x="968.5 978.1 984.5" y="981.4" font-size="16" fill="#111">0.1</text>
<text class="s" x="944.2" y="1004.5" font-size="20.7" fill="#111">:</text>
<text class="c" x="900.5 921.2" y="1004.5" font-size="20.7" fill="#111">单位</text>
<text class="c" x="952.2 972.9" y="1004.5" font-size="20.7" fill="#111">毫米</text>
<circle cx="929.6" cy="77.9" r="56" fill="url(#lg)"/>
<text font-size="7.6" font-weight="bold" fill="#fff" letter-spacing="0.15"><textPath href="#arc1" startOffset="0">BEIJING METEOROLOGICAL BUREAU</textPath></text>
<g fill="none" stroke="#fff" stroke-linecap="round"><path d="M919.5 41.5V116" stroke-width="1.6"/><path d="M919.5 43C921 39 924.5 40 925 45C925.5 51 924 55 930 59C938 63 948 62 949.5 72" stroke-width="2.2"/><path d="M920.5 77.5C932 76 947 77 956 82C962 85 963 90 960 94" stroke-width="2.6"/><path d="M920.5 93C934 92 952 94 964 99C970 102 971 106 969 109" stroke-width="2.6"/><path d="M900 68H929" stroke-width="1.3"/></g>
<path d="M896.5 64.5L905 67.3V68.7L896.5 71.5Z" fill="#fff"/>
<path d="M929 65.5L937.5 68L929 70.8Z" fill="#e0202a"/>
<text class="g" transform="translate(912.9 119.2) rotate(22)" y="2.7" font-size="7.2" font-weight="500" text-anchor="middle" fill="#fff" stroke="#fff" stroke-width="0.29">北</text>
<text class="g" transform="translate(922.6 121.9) rotate(9)" y="2.7" font-size="7.2" font-weight="500" text-anchor="middle" fill="#fff" stroke="#fff" stroke-width="0.29">京</text>
<text class="g" transform="translate(932.3 122.3) rotate(-3.5)" y="2.7" font-size="7.2" font-weight="500" text-anchor="middle" fill="#fff" stroke="#fff" stroke-width="0.29">市</text>
<text class="g" transform="translate(941.9 120.7) rotate(-16)" y="2.7" font-size="7.2" font-weight="500" text-anchor="middle" fill="#fff" stroke="#fff" stroke-width="0.29">气</text>
<text class="g" transform="translate(950.5 117.2) rotate(-28)" y="2.7" font-size="7.2" font-weight="500" text-anchor="middle" fill="#fff" stroke="#fff" stroke-width="0.29">象</text>
<text class="g" transform="translate(958.2 112) rotate(-40)" y="2.7" font-size="7.2" font-weight="500" text-anchor="middle" fill="#fff" stroke="#fff" stroke-width="0.29">局</text>
<path d="M35.5 10.5H997.5V1011.5H35.5Z" fill="none" stroke="#000" stroke-width="1.2"/>
<text x="20.5" y="16.5" font-size="17" text-anchor="end">43</text>
<text x="20.5" y="155.9" font-size="17" text-anchor="end">42</text>
<text x="20.5" y="295.4" font-size="17" text-anchor="end">41</text>
<text x="20.5" y="434.8" font-size="17" text-anchor="end">40</text>
<text x="20.5" y="574.3" font-size="17" text-anchor="end">39</text>
<text x="20.5" y="713.8" font-size="17" text-anchor="end">38</text>
<text x="20.5" y="853.2" font-size="17" text-anchor="end">37</text>
<text x="20.5" y="992.6" font-size="17" text-anchor="end">36</text>
<text x="148.5" y="1043.5" font-size="17" text-anchor="middle">114</text>
<text x="287.9" y="1043.5" font-size="17" text-anchor="middle">115</text>
<text x="427.4" y="1043.5" font-size="17" text-anchor="middle">116</text>
<text x="566.8" y="1043.5" font-size="17" text-anchor="middle">117</text>
<text x="706.3" y="1043.5" font-size="17" text-anchor="middle">118</text>
<text x="845.8" y="1043.5" font-size="17" text-anchor="middle">119</text>
<text x="985.2" y="1043.5" font-size="17" text-anchor="middle">120</text>
<path d="M23 10.5H35.5M23 149.9H35.5M23 289.4H35.5M23 428.8H35.5M23 568.3H35.5M23 707.8H35.5M23 847.2H35.5M23 986.6H35.5M148.5 1011.5V1024M287.9 1011.5V1024M427.4 1011.5V1024M566.8 1011.5V1024M706.3 1011.5V1024M845.8 1011.5V1024M985.2 1011.5V1024" stroke="#000" stroke-width="1.2" fill="none"/>
</svg></body></html>
